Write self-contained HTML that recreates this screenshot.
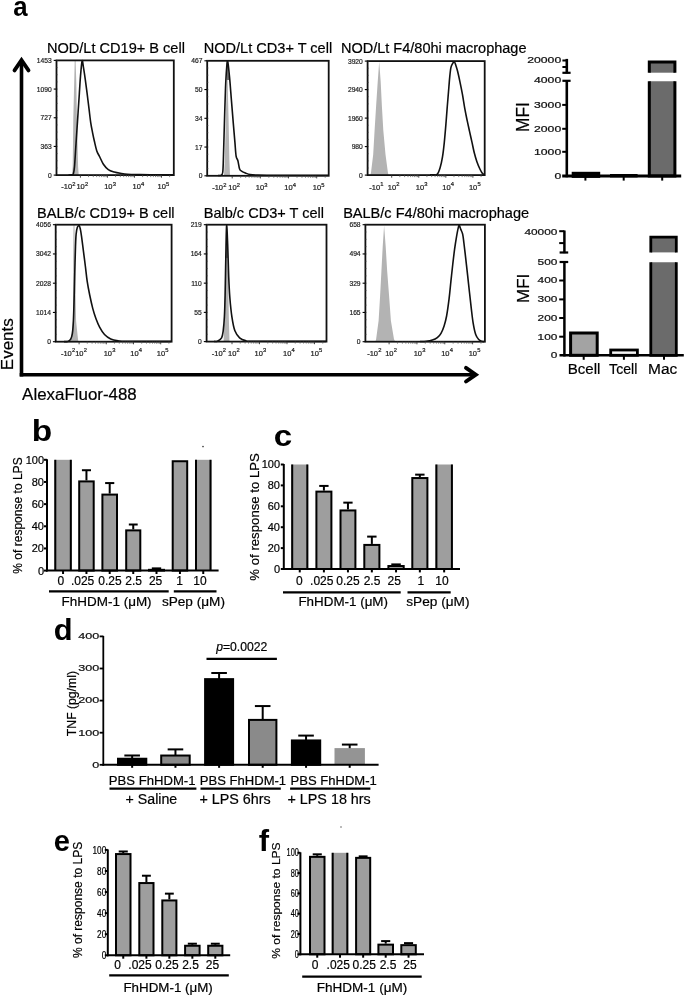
<!DOCTYPE html>
<html><head><meta charset="utf-8"><style>
html,body{margin:0;padding:0;background:#fff;}
svg{display:block;will-change:transform;}
text{font-family:"Liberation Sans", sans-serif;}
</style></head><body>
<svg width="685" height="995" viewBox="0 0 685 995" font-family='"Liberation Sans", sans-serif'>
<rect x="0" y="0" width="685" height="995" fill="#fff"/>
<text x="0" y="0" font-size="100.0" font-weight="bold" fill="#000" transform="translate(13.126 16.322) scale(0.25794 0.27818)">a</text>
<line x1="21.50" y1="61.00" x2="21.50" y2="376.40" stroke="#000" stroke-width="3.6" stroke-linecap="butt"/>
<line x1="19.70" y1="374.70" x2="476.00" y2="374.70" stroke="#000" stroke-width="3.6" stroke-linecap="butt"/>
<path d="M14.5,70.4 L21.5,60.2 L28.5,70.4" fill="none" stroke="#000" stroke-width="3.8" stroke-linecap="round" stroke-linejoin="miter" stroke-miterlimit="10"/>
<path d="M466.0,367.9 L475.8,374.7 L466.0,381.5" fill="none" stroke="#000" stroke-width="3.9" stroke-linecap="round" stroke-linejoin="miter" stroke-miterlimit="10"/>
<text x="0" y="0" font-size="100.0" fill="#000" transform="translate(13.226 370.161) rotate(-90) scale(0.17007 0.17429)" stroke="#000" stroke-width="1.162">Events</text>
<text x="0" y="0" font-size="100.0" fill="#000" transform="translate(22.115 399.738) scale(0.16912 0.16190)" stroke="#000" stroke-width="1.208">AlexaFluor-488</text>
<text x="46.93" y="52.90" font-size="14.577" fill="#000" stroke="#000" stroke-width="0.2">NOD/Lt CD19+ B cell</text>
<path d="M72.10,175.00 L72.70,166.60 L73.30,118.30 L74.20,82.10 L74.70,61.00 L75.60,61.00 L76.30,82.10 L76.90,118.30 L78.10,166.60 L78.70,175.00Z" fill="#b3b3b3"/>
<path d="M68.50,175.00 C69.00,174.97 70.70,174.98 71.50,174.80 C72.30,174.62 72.80,175.27 73.30,173.90 C73.80,172.53 74.10,170.83 74.50,166.60 C74.90,162.37 75.30,154.53 75.70,148.50 C76.10,142.47 76.50,136.43 76.90,130.40 C77.30,124.37 77.70,118.33 78.10,112.30 C78.50,106.27 78.90,100.23 79.30,94.20 C79.70,88.17 80.03,81.65 80.50,76.10 C80.97,70.55 81.60,62.30 82.10,60.90 C82.60,59.50 82.97,64.57 83.50,67.70 C84.03,70.83 84.68,75.28 85.30,79.70 C85.92,84.12 86.58,89.37 87.20,94.20 C87.82,99.03 88.40,103.87 89.00,108.70 C89.60,113.53 90.20,119.18 90.80,123.20 C91.40,127.22 92.00,129.78 92.60,132.80 C93.20,135.82 93.70,138.28 94.40,141.30 C95.10,144.32 95.90,148.28 96.80,150.90 C97.70,153.52 98.70,154.78 99.80,157.00 C100.90,159.22 101.98,162.10 103.40,164.20 C104.82,166.30 106.48,168.30 108.30,169.60 C110.12,170.90 112.30,171.38 114.30,172.00 C116.30,172.62 118.08,172.92 120.30,173.30 C122.52,173.68 124.32,174.08 127.60,174.30 C130.88,174.52 134.60,174.52 140.00,174.60 C145.40,174.68 154.50,174.75 160.00,174.80 C165.50,174.85 170.83,174.88 173.00,174.90" fill="none" stroke="#111" stroke-width="1.6" stroke-linejoin="round"/>
<rect x="56.50" y="60.40" width="117.30" height="114.70" fill="none" stroke="#111" stroke-width="1.8"/>
<line x1="53.70" y1="60.40" x2="56.50" y2="60.40" stroke="#000" stroke-width="1.1" stroke-linecap="butt"/>
<text x="51.70" y="62.90" font-size="6.7" text-anchor="end" fill="#222" stroke="#222" stroke-width="0.2">1453</text>
<line x1="53.70" y1="89.07" x2="56.50" y2="89.07" stroke="#000" stroke-width="1.1" stroke-linecap="butt"/>
<text x="51.70" y="91.57" font-size="6.7" text-anchor="end" fill="#222" stroke="#222" stroke-width="0.2">1090</text>
<line x1="53.70" y1="117.75" x2="56.50" y2="117.75" stroke="#000" stroke-width="1.1" stroke-linecap="butt"/>
<text x="51.70" y="120.25" font-size="6.7" text-anchor="end" fill="#222" stroke="#222" stroke-width="0.2">727</text>
<line x1="53.70" y1="146.42" x2="56.50" y2="146.42" stroke="#000" stroke-width="1.1" stroke-linecap="butt"/>
<text x="51.70" y="148.92" font-size="6.7" text-anchor="end" fill="#222" stroke="#222" stroke-width="0.2">363</text>
<line x1="53.70" y1="175.10" x2="56.50" y2="175.10" stroke="#000" stroke-width="1.1" stroke-linecap="butt"/>
<text x="51.70" y="177.60" font-size="6.7" text-anchor="end" fill="#222" stroke="#222" stroke-width="0.2">0</text>
<line x1="56.50" y1="60.40" x2="57.70" y2="60.40" stroke="#444" stroke-width="0.6" stroke-linecap="butt"/>
<line x1="56.50" y1="67.57" x2="57.70" y2="67.57" stroke="#444" stroke-width="0.6" stroke-linecap="butt"/>
<line x1="56.50" y1="74.74" x2="57.70" y2="74.74" stroke="#444" stroke-width="0.6" stroke-linecap="butt"/>
<line x1="56.50" y1="81.91" x2="57.70" y2="81.91" stroke="#444" stroke-width="0.6" stroke-linecap="butt"/>
<line x1="56.50" y1="89.07" x2="57.70" y2="89.07" stroke="#444" stroke-width="0.6" stroke-linecap="butt"/>
<line x1="56.50" y1="96.24" x2="57.70" y2="96.24" stroke="#444" stroke-width="0.6" stroke-linecap="butt"/>
<line x1="56.50" y1="103.41" x2="57.70" y2="103.41" stroke="#444" stroke-width="0.6" stroke-linecap="butt"/>
<line x1="56.50" y1="110.58" x2="57.70" y2="110.58" stroke="#444" stroke-width="0.6" stroke-linecap="butt"/>
<line x1="56.50" y1="117.75" x2="57.70" y2="117.75" stroke="#444" stroke-width="0.6" stroke-linecap="butt"/>
<line x1="56.50" y1="124.92" x2="57.70" y2="124.92" stroke="#444" stroke-width="0.6" stroke-linecap="butt"/>
<line x1="56.50" y1="132.09" x2="57.70" y2="132.09" stroke="#444" stroke-width="0.6" stroke-linecap="butt"/>
<line x1="56.50" y1="139.26" x2="57.70" y2="139.26" stroke="#444" stroke-width="0.6" stroke-linecap="butt"/>
<line x1="56.50" y1="146.42" x2="57.70" y2="146.42" stroke="#444" stroke-width="0.6" stroke-linecap="butt"/>
<line x1="56.50" y1="153.59" x2="57.70" y2="153.59" stroke="#444" stroke-width="0.6" stroke-linecap="butt"/>
<line x1="56.50" y1="160.76" x2="57.70" y2="160.76" stroke="#444" stroke-width="0.6" stroke-linecap="butt"/>
<line x1="56.50" y1="167.93" x2="57.70" y2="167.93" stroke="#444" stroke-width="0.6" stroke-linecap="butt"/>
<text x="61.25" y="189.40" font-size="7.5" fill="#222" stroke="#222" stroke-width="0.22">-10<tspan font-size="5.8" dx="0.15" dy="-3.9">2</tspan></text>
<text x="76.45" y="189.40" font-size="7.5" fill="#222" stroke="#222" stroke-width="0.22">10<tspan font-size="5.8" dx="0.15" dy="-3.9">2</tspan></text>
<text x="104.15" y="189.40" font-size="7.5" fill="#222" stroke="#222" stroke-width="0.22">10<tspan font-size="5.8" dx="0.15" dy="-3.9">3</tspan></text>
<text x="132.55" y="189.40" font-size="7.5" fill="#222" stroke="#222" stroke-width="0.22">10<tspan font-size="5.8" dx="0.15" dy="-3.9">4</tspan></text>
<text x="157.55" y="189.40" font-size="7.5" fill="#222" stroke="#222" stroke-width="0.22">10<tspan font-size="5.8" dx="0.15" dy="-3.9">5</tspan></text>
<line x1="88.54" y1="175.10" x2="88.54" y2="177.10" stroke="#555" stroke-width="0.7" stroke-linecap="butt"/>
<line x1="93.30" y1="175.10" x2="93.30" y2="177.10" stroke="#555" stroke-width="0.7" stroke-linecap="butt"/>
<line x1="96.68" y1="175.10" x2="96.68" y2="177.10" stroke="#555" stroke-width="0.7" stroke-linecap="butt"/>
<line x1="99.30" y1="175.10" x2="99.30" y2="177.10" stroke="#555" stroke-width="0.7" stroke-linecap="butt"/>
<line x1="101.44" y1="175.10" x2="101.44" y2="177.10" stroke="#555" stroke-width="0.7" stroke-linecap="butt"/>
<line x1="103.25" y1="175.10" x2="103.25" y2="177.10" stroke="#555" stroke-width="0.7" stroke-linecap="butt"/>
<line x1="104.81" y1="175.10" x2="104.81" y2="177.10" stroke="#555" stroke-width="0.7" stroke-linecap="butt"/>
<line x1="106.20" y1="175.10" x2="106.20" y2="177.10" stroke="#555" stroke-width="0.7" stroke-linecap="butt"/>
<line x1="80.40" y1="175.10" x2="80.40" y2="177.70" stroke="#333" stroke-width="0.9" stroke-linecap="butt"/>
<line x1="115.57" y1="175.10" x2="115.57" y2="177.10" stroke="#555" stroke-width="0.7" stroke-linecap="butt"/>
<line x1="120.33" y1="175.10" x2="120.33" y2="177.10" stroke="#555" stroke-width="0.7" stroke-linecap="butt"/>
<line x1="123.71" y1="175.10" x2="123.71" y2="177.10" stroke="#555" stroke-width="0.7" stroke-linecap="butt"/>
<line x1="126.33" y1="175.10" x2="126.33" y2="177.10" stroke="#555" stroke-width="0.7" stroke-linecap="butt"/>
<line x1="128.47" y1="175.10" x2="128.47" y2="177.10" stroke="#555" stroke-width="0.7" stroke-linecap="butt"/>
<line x1="130.28" y1="175.10" x2="130.28" y2="177.10" stroke="#555" stroke-width="0.7" stroke-linecap="butt"/>
<line x1="131.85" y1="175.10" x2="131.85" y2="177.10" stroke="#555" stroke-width="0.7" stroke-linecap="butt"/>
<line x1="133.23" y1="175.10" x2="133.23" y2="177.10" stroke="#555" stroke-width="0.7" stroke-linecap="butt"/>
<line x1="107.43" y1="175.10" x2="107.43" y2="177.70" stroke="#333" stroke-width="0.9" stroke-linecap="butt"/>
<line x1="142.60" y1="175.10" x2="142.60" y2="177.10" stroke="#555" stroke-width="0.7" stroke-linecap="butt"/>
<line x1="147.36" y1="175.10" x2="147.36" y2="177.10" stroke="#555" stroke-width="0.7" stroke-linecap="butt"/>
<line x1="150.74" y1="175.10" x2="150.74" y2="177.10" stroke="#555" stroke-width="0.7" stroke-linecap="butt"/>
<line x1="153.36" y1="175.10" x2="153.36" y2="177.10" stroke="#555" stroke-width="0.7" stroke-linecap="butt"/>
<line x1="155.50" y1="175.10" x2="155.50" y2="177.10" stroke="#555" stroke-width="0.7" stroke-linecap="butt"/>
<line x1="157.31" y1="175.10" x2="157.31" y2="177.10" stroke="#555" stroke-width="0.7" stroke-linecap="butt"/>
<line x1="158.88" y1="175.10" x2="158.88" y2="177.10" stroke="#555" stroke-width="0.7" stroke-linecap="butt"/>
<line x1="160.26" y1="175.10" x2="160.26" y2="177.10" stroke="#555" stroke-width="0.7" stroke-linecap="butt"/>
<line x1="134.47" y1="175.10" x2="134.47" y2="177.70" stroke="#333" stroke-width="0.9" stroke-linecap="butt"/>
<line x1="169.64" y1="175.10" x2="169.64" y2="177.10" stroke="#555" stroke-width="0.7" stroke-linecap="butt"/>
<line x1="161.50" y1="175.10" x2="161.50" y2="177.70" stroke="#333" stroke-width="0.9" stroke-linecap="butt"/>
<text x="203.74" y="53.00" font-size="14.551" fill="#000" stroke="#000" stroke-width="0.2">NOD/Lt CD3+ T cell</text>
<path d="M224.00,175.60 L224.80,160.00 L225.80,120.00 L226.70,80.00 L227.10,61.50 L227.60,80.00 L228.60,120.00 L229.40,160.00 L230.00,175.60Z" fill="#b3b3b3"/>
<path d="M226.70,63.00 L227.60,61.50 L229.30,80.00 L226.80,80.00Z" fill="#6a6a6a"/>
<path d="M218.00,175.50 C218.48,175.47 220.12,175.80 220.90,175.30 C221.68,174.80 222.28,175.30 222.70,172.50 C223.12,169.70 223.12,166.68 223.40,158.50 C223.68,150.32 224.05,135.08 224.40,123.40 C224.75,111.72 225.12,97.73 225.50,88.40 C225.88,79.07 226.33,71.93 226.70,67.40 C227.07,62.87 227.23,59.65 227.70,61.20 C228.17,62.75 228.88,70.23 229.50,76.70 C230.12,83.17 230.77,92.22 231.40,100.00 C232.03,107.78 232.72,116.38 233.30,123.40 C233.88,130.42 234.43,136.65 234.90,142.10 C235.37,147.55 235.60,152.98 236.10,156.10 C236.60,159.22 237.32,158.65 237.90,160.80 C238.48,162.95 238.93,167.25 239.60,169.00 C240.27,170.75 240.93,170.63 241.90,171.30 C242.87,171.97 244.03,172.45 245.40,173.00 C246.77,173.55 248.00,174.25 250.10,174.60 C252.20,174.95 253.02,174.98 258.00,175.10 C262.98,175.22 268.33,175.27 280.00,175.30 C291.67,175.33 320.00,175.30 328.00,175.30" fill="none" stroke="#111" stroke-width="1.6" stroke-linejoin="round"/>
<rect x="207.20" y="60.80" width="121.50" height="115.00" fill="none" stroke="#111" stroke-width="1.8"/>
<line x1="204.40" y1="60.80" x2="207.20" y2="60.80" stroke="#000" stroke-width="1.1" stroke-linecap="butt"/>
<text x="202.40" y="63.30" font-size="6.7" text-anchor="end" fill="#222" stroke="#222" stroke-width="0.2">467</text>
<line x1="204.40" y1="89.55" x2="207.20" y2="89.55" stroke="#000" stroke-width="1.1" stroke-linecap="butt"/>
<text x="202.40" y="92.05" font-size="6.7" text-anchor="end" fill="#222" stroke="#222" stroke-width="0.2">50</text>
<line x1="204.40" y1="118.30" x2="207.20" y2="118.30" stroke="#000" stroke-width="1.1" stroke-linecap="butt"/>
<text x="202.40" y="120.80" font-size="6.7" text-anchor="end" fill="#222" stroke="#222" stroke-width="0.2">34</text>
<line x1="204.40" y1="147.05" x2="207.20" y2="147.05" stroke="#000" stroke-width="1.1" stroke-linecap="butt"/>
<text x="202.40" y="149.55" font-size="6.7" text-anchor="end" fill="#222" stroke="#222" stroke-width="0.2">17</text>
<line x1="204.40" y1="175.80" x2="207.20" y2="175.80" stroke="#000" stroke-width="1.1" stroke-linecap="butt"/>
<text x="202.40" y="178.30" font-size="6.7" text-anchor="end" fill="#222" stroke="#222" stroke-width="0.2">0</text>
<line x1="207.20" y1="60.80" x2="208.40" y2="60.80" stroke="#444" stroke-width="0.6" stroke-linecap="butt"/>
<line x1="207.20" y1="67.99" x2="208.40" y2="67.99" stroke="#444" stroke-width="0.6" stroke-linecap="butt"/>
<line x1="207.20" y1="75.17" x2="208.40" y2="75.17" stroke="#444" stroke-width="0.6" stroke-linecap="butt"/>
<line x1="207.20" y1="82.36" x2="208.40" y2="82.36" stroke="#444" stroke-width="0.6" stroke-linecap="butt"/>
<line x1="207.20" y1="89.55" x2="208.40" y2="89.55" stroke="#444" stroke-width="0.6" stroke-linecap="butt"/>
<line x1="207.20" y1="96.74" x2="208.40" y2="96.74" stroke="#444" stroke-width="0.6" stroke-linecap="butt"/>
<line x1="207.20" y1="103.93" x2="208.40" y2="103.93" stroke="#444" stroke-width="0.6" stroke-linecap="butt"/>
<line x1="207.20" y1="111.11" x2="208.40" y2="111.11" stroke="#444" stroke-width="0.6" stroke-linecap="butt"/>
<line x1="207.20" y1="118.30" x2="208.40" y2="118.30" stroke="#444" stroke-width="0.6" stroke-linecap="butt"/>
<line x1="207.20" y1="125.49" x2="208.40" y2="125.49" stroke="#444" stroke-width="0.6" stroke-linecap="butt"/>
<line x1="207.20" y1="132.68" x2="208.40" y2="132.68" stroke="#444" stroke-width="0.6" stroke-linecap="butt"/>
<line x1="207.20" y1="139.86" x2="208.40" y2="139.86" stroke="#444" stroke-width="0.6" stroke-linecap="butt"/>
<line x1="207.20" y1="147.05" x2="208.40" y2="147.05" stroke="#444" stroke-width="0.6" stroke-linecap="butt"/>
<line x1="207.20" y1="154.24" x2="208.40" y2="154.24" stroke="#444" stroke-width="0.6" stroke-linecap="butt"/>
<line x1="207.20" y1="161.43" x2="208.40" y2="161.43" stroke="#444" stroke-width="0.6" stroke-linecap="butt"/>
<line x1="207.20" y1="168.61" x2="208.40" y2="168.61" stroke="#444" stroke-width="0.6" stroke-linecap="butt"/>
<text x="212.15" y="190.40" font-size="7.5" fill="#222" stroke="#222" stroke-width="0.22">-10<tspan font-size="5.8" dx="0.15" dy="-3.9">2</tspan></text>
<text x="228.25" y="190.40" font-size="7.5" fill="#222" stroke="#222" stroke-width="0.22">10<tspan font-size="5.8" dx="0.15" dy="-3.9">2</tspan></text>
<text x="255.75" y="190.40" font-size="7.5" fill="#222" stroke="#222" stroke-width="0.22">10<tspan font-size="5.8" dx="0.15" dy="-3.9">3</tspan></text>
<text x="284.25" y="190.40" font-size="7.5" fill="#222" stroke="#222" stroke-width="0.22">10<tspan font-size="5.8" dx="0.15" dy="-3.9">4</tspan></text>
<text x="312.75" y="190.40" font-size="7.5" fill="#222" stroke="#222" stroke-width="0.22">10<tspan font-size="5.8" dx="0.15" dy="-3.9">5</tspan></text>
<line x1="240.68" y1="175.80" x2="240.68" y2="177.80" stroke="#555" stroke-width="0.7" stroke-linecap="butt"/>
<line x1="245.64" y1="175.80" x2="245.64" y2="177.80" stroke="#555" stroke-width="0.7" stroke-linecap="butt"/>
<line x1="249.16" y1="175.80" x2="249.16" y2="177.80" stroke="#555" stroke-width="0.7" stroke-linecap="butt"/>
<line x1="251.89" y1="175.80" x2="251.89" y2="177.80" stroke="#555" stroke-width="0.7" stroke-linecap="butt"/>
<line x1="254.12" y1="175.80" x2="254.12" y2="177.80" stroke="#555" stroke-width="0.7" stroke-linecap="butt"/>
<line x1="256.00" y1="175.80" x2="256.00" y2="177.80" stroke="#555" stroke-width="0.7" stroke-linecap="butt"/>
<line x1="257.64" y1="175.80" x2="257.64" y2="177.80" stroke="#555" stroke-width="0.7" stroke-linecap="butt"/>
<line x1="259.08" y1="175.80" x2="259.08" y2="177.80" stroke="#555" stroke-width="0.7" stroke-linecap="butt"/>
<line x1="232.20" y1="175.80" x2="232.20" y2="178.40" stroke="#333" stroke-width="0.9" stroke-linecap="butt"/>
<line x1="268.85" y1="175.80" x2="268.85" y2="177.80" stroke="#555" stroke-width="0.7" stroke-linecap="butt"/>
<line x1="273.81" y1="175.80" x2="273.81" y2="177.80" stroke="#555" stroke-width="0.7" stroke-linecap="butt"/>
<line x1="277.32" y1="175.80" x2="277.32" y2="177.80" stroke="#555" stroke-width="0.7" stroke-linecap="butt"/>
<line x1="280.05" y1="175.80" x2="280.05" y2="177.80" stroke="#555" stroke-width="0.7" stroke-linecap="butt"/>
<line x1="282.28" y1="175.80" x2="282.28" y2="177.80" stroke="#555" stroke-width="0.7" stroke-linecap="butt"/>
<line x1="284.17" y1="175.80" x2="284.17" y2="177.80" stroke="#555" stroke-width="0.7" stroke-linecap="butt"/>
<line x1="285.80" y1="175.80" x2="285.80" y2="177.80" stroke="#555" stroke-width="0.7" stroke-linecap="butt"/>
<line x1="287.24" y1="175.80" x2="287.24" y2="177.80" stroke="#555" stroke-width="0.7" stroke-linecap="butt"/>
<line x1="260.37" y1="175.80" x2="260.37" y2="178.40" stroke="#333" stroke-width="0.9" stroke-linecap="butt"/>
<line x1="297.01" y1="175.80" x2="297.01" y2="177.80" stroke="#555" stroke-width="0.7" stroke-linecap="butt"/>
<line x1="301.97" y1="175.80" x2="301.97" y2="177.80" stroke="#555" stroke-width="0.7" stroke-linecap="butt"/>
<line x1="305.49" y1="175.80" x2="305.49" y2="177.80" stroke="#555" stroke-width="0.7" stroke-linecap="butt"/>
<line x1="308.22" y1="175.80" x2="308.22" y2="177.80" stroke="#555" stroke-width="0.7" stroke-linecap="butt"/>
<line x1="310.45" y1="175.80" x2="310.45" y2="177.80" stroke="#555" stroke-width="0.7" stroke-linecap="butt"/>
<line x1="312.34" y1="175.80" x2="312.34" y2="177.80" stroke="#555" stroke-width="0.7" stroke-linecap="butt"/>
<line x1="313.97" y1="175.80" x2="313.97" y2="177.80" stroke="#555" stroke-width="0.7" stroke-linecap="butt"/>
<line x1="315.41" y1="175.80" x2="315.41" y2="177.80" stroke="#555" stroke-width="0.7" stroke-linecap="butt"/>
<line x1="288.53" y1="175.80" x2="288.53" y2="178.40" stroke="#333" stroke-width="0.9" stroke-linecap="butt"/>
<line x1="325.18" y1="175.80" x2="325.18" y2="177.80" stroke="#555" stroke-width="0.7" stroke-linecap="butt"/>
<line x1="316.70" y1="175.80" x2="316.70" y2="178.40" stroke="#333" stroke-width="0.9" stroke-linecap="butt"/>
<text x="340.94" y="52.90" font-size="14.526" fill="#000" stroke="#000" stroke-width="0.2">NOD/Lt F4/80hi macrophage</text>
<path d="M370.40,175.10 L371.00,172.50 L373.20,154.40 L374.60,130.30 L376.10,106.20 L377.70,82.10 L379.20,61.50 L380.70,82.10 L381.90,106.20 L383.30,130.30 L385.50,154.40 L387.90,172.50 L388.50,175.10Z" fill="#b3b3b3"/>
<path d="M430.00,174.80 C430.57,174.78 432.22,174.77 433.40,174.70 C434.58,174.63 435.98,175.57 437.10,174.40 C438.22,173.23 439.20,170.62 440.10,167.70 C441.00,164.78 441.80,161.12 442.50,156.90 C443.20,152.68 443.70,148.23 444.30,142.40 C444.90,136.57 445.60,127.93 446.10,121.90 C446.60,115.87 446.90,111.22 447.30,106.20 C447.70,101.18 448.10,96.62 448.50,91.80 C448.90,86.98 449.30,81.33 449.70,77.30 C450.10,73.27 450.40,69.92 450.90,67.60 C451.40,65.28 452.13,64.40 452.70,63.40 C453.27,62.40 453.78,61.30 454.30,61.60 C454.82,61.90 455.25,63.58 455.80,65.20 C456.35,66.82 456.90,68.48 457.60,71.30 C458.30,74.12 459.20,78.28 460.00,82.10 C460.80,85.92 461.60,89.77 462.40,94.20 C463.20,98.63 464.00,104.28 464.80,108.70 C465.60,113.12 466.40,116.88 467.20,120.70 C468.00,124.52 468.80,127.98 469.60,131.60 C470.40,135.22 471.20,138.78 472.00,142.40 C472.80,146.02 473.58,150.08 474.40,153.30 C475.22,156.52 475.98,159.08 476.90,161.70 C477.82,164.32 479.00,167.08 479.90,169.00 C480.80,170.92 481.60,172.25 482.30,173.20 C483.00,174.15 483.80,174.45 484.10,174.70" fill="none" stroke="#111" stroke-width="1.6" stroke-linejoin="round"/>
<rect x="367.60" y="61.10" width="117.10" height="114.00" fill="none" stroke="#111" stroke-width="1.8"/>
<line x1="364.80" y1="61.10" x2="367.60" y2="61.10" stroke="#000" stroke-width="1.1" stroke-linecap="butt"/>
<text x="362.80" y="63.60" font-size="6.7" text-anchor="end" fill="#222" stroke="#222" stroke-width="0.2">3920</text>
<line x1="364.80" y1="89.60" x2="367.60" y2="89.60" stroke="#000" stroke-width="1.1" stroke-linecap="butt"/>
<text x="362.80" y="92.10" font-size="6.7" text-anchor="end" fill="#222" stroke="#222" stroke-width="0.2">2940</text>
<line x1="364.80" y1="118.10" x2="367.60" y2="118.10" stroke="#000" stroke-width="1.1" stroke-linecap="butt"/>
<text x="362.80" y="120.60" font-size="6.7" text-anchor="end" fill="#222" stroke="#222" stroke-width="0.2">1960</text>
<line x1="364.80" y1="146.60" x2="367.60" y2="146.60" stroke="#000" stroke-width="1.1" stroke-linecap="butt"/>
<text x="362.80" y="149.10" font-size="6.7" text-anchor="end" fill="#222" stroke="#222" stroke-width="0.2">980</text>
<line x1="364.80" y1="175.10" x2="367.60" y2="175.10" stroke="#000" stroke-width="1.1" stroke-linecap="butt"/>
<text x="362.80" y="177.60" font-size="6.7" text-anchor="end" fill="#222" stroke="#222" stroke-width="0.2">0</text>
<line x1="367.60" y1="61.10" x2="368.80" y2="61.10" stroke="#444" stroke-width="0.6" stroke-linecap="butt"/>
<line x1="367.60" y1="68.22" x2="368.80" y2="68.22" stroke="#444" stroke-width="0.6" stroke-linecap="butt"/>
<line x1="367.60" y1="75.35" x2="368.80" y2="75.35" stroke="#444" stroke-width="0.6" stroke-linecap="butt"/>
<line x1="367.60" y1="82.47" x2="368.80" y2="82.47" stroke="#444" stroke-width="0.6" stroke-linecap="butt"/>
<line x1="367.60" y1="89.60" x2="368.80" y2="89.60" stroke="#444" stroke-width="0.6" stroke-linecap="butt"/>
<line x1="367.60" y1="96.72" x2="368.80" y2="96.72" stroke="#444" stroke-width="0.6" stroke-linecap="butt"/>
<line x1="367.60" y1="103.85" x2="368.80" y2="103.85" stroke="#444" stroke-width="0.6" stroke-linecap="butt"/>
<line x1="367.60" y1="110.97" x2="368.80" y2="110.97" stroke="#444" stroke-width="0.6" stroke-linecap="butt"/>
<line x1="367.60" y1="118.10" x2="368.80" y2="118.10" stroke="#444" stroke-width="0.6" stroke-linecap="butt"/>
<line x1="367.60" y1="125.22" x2="368.80" y2="125.22" stroke="#444" stroke-width="0.6" stroke-linecap="butt"/>
<line x1="367.60" y1="132.35" x2="368.80" y2="132.35" stroke="#444" stroke-width="0.6" stroke-linecap="butt"/>
<line x1="367.60" y1="139.47" x2="368.80" y2="139.47" stroke="#444" stroke-width="0.6" stroke-linecap="butt"/>
<line x1="367.60" y1="146.60" x2="368.80" y2="146.60" stroke="#444" stroke-width="0.6" stroke-linecap="butt"/>
<line x1="367.60" y1="153.72" x2="368.80" y2="153.72" stroke="#444" stroke-width="0.6" stroke-linecap="butt"/>
<line x1="367.60" y1="160.85" x2="368.80" y2="160.85" stroke="#444" stroke-width="0.6" stroke-linecap="butt"/>
<line x1="367.60" y1="167.97" x2="368.80" y2="167.97" stroke="#444" stroke-width="0.6" stroke-linecap="butt"/>
<text x="369.25" y="189.80" font-size="7.5" fill="#222" stroke="#222" stroke-width="0.22">-10<tspan font-size="5.8" dx="0.15" dy="-3.9">1</tspan></text>
<text x="387.75" y="189.80" font-size="7.5" fill="#222" stroke="#222" stroke-width="0.22">10<tspan font-size="5.8" dx="0.15" dy="-3.9">2</tspan></text>
<text x="415.75" y="189.80" font-size="7.5" fill="#222" stroke="#222" stroke-width="0.22">10<tspan font-size="5.8" dx="0.15" dy="-3.9">3</tspan></text>
<text x="442.35" y="189.80" font-size="7.5" fill="#222" stroke="#222" stroke-width="0.22">10<tspan font-size="5.8" dx="0.15" dy="-3.9">4</tspan></text>
<text x="468.95" y="189.80" font-size="7.5" fill="#222" stroke="#222" stroke-width="0.22">10<tspan font-size="5.8" dx="0.15" dy="-3.9">5</tspan></text>
<line x1="399.85" y1="175.10" x2="399.85" y2="177.10" stroke="#555" stroke-width="0.7" stroke-linecap="butt"/>
<line x1="404.61" y1="175.10" x2="404.61" y2="177.10" stroke="#555" stroke-width="0.7" stroke-linecap="butt"/>
<line x1="408.00" y1="175.10" x2="408.00" y2="177.10" stroke="#555" stroke-width="0.7" stroke-linecap="butt"/>
<line x1="410.62" y1="175.10" x2="410.62" y2="177.10" stroke="#555" stroke-width="0.7" stroke-linecap="butt"/>
<line x1="412.76" y1="175.10" x2="412.76" y2="177.10" stroke="#555" stroke-width="0.7" stroke-linecap="butt"/>
<line x1="414.57" y1="175.10" x2="414.57" y2="177.10" stroke="#555" stroke-width="0.7" stroke-linecap="butt"/>
<line x1="416.14" y1="175.10" x2="416.14" y2="177.10" stroke="#555" stroke-width="0.7" stroke-linecap="butt"/>
<line x1="417.53" y1="175.10" x2="417.53" y2="177.10" stroke="#555" stroke-width="0.7" stroke-linecap="butt"/>
<line x1="391.70" y1="175.10" x2="391.70" y2="177.70" stroke="#333" stroke-width="0.9" stroke-linecap="butt"/>
<line x1="426.91" y1="175.10" x2="426.91" y2="177.10" stroke="#555" stroke-width="0.7" stroke-linecap="butt"/>
<line x1="431.68" y1="175.10" x2="431.68" y2="177.10" stroke="#555" stroke-width="0.7" stroke-linecap="butt"/>
<line x1="435.06" y1="175.10" x2="435.06" y2="177.10" stroke="#555" stroke-width="0.7" stroke-linecap="butt"/>
<line x1="437.69" y1="175.10" x2="437.69" y2="177.10" stroke="#555" stroke-width="0.7" stroke-linecap="butt"/>
<line x1="439.83" y1="175.10" x2="439.83" y2="177.10" stroke="#555" stroke-width="0.7" stroke-linecap="butt"/>
<line x1="441.64" y1="175.10" x2="441.64" y2="177.10" stroke="#555" stroke-width="0.7" stroke-linecap="butt"/>
<line x1="443.21" y1="175.10" x2="443.21" y2="177.10" stroke="#555" stroke-width="0.7" stroke-linecap="butt"/>
<line x1="444.59" y1="175.10" x2="444.59" y2="177.10" stroke="#555" stroke-width="0.7" stroke-linecap="butt"/>
<line x1="418.77" y1="175.10" x2="418.77" y2="177.70" stroke="#333" stroke-width="0.9" stroke-linecap="butt"/>
<line x1="453.98" y1="175.10" x2="453.98" y2="177.10" stroke="#555" stroke-width="0.7" stroke-linecap="butt"/>
<line x1="458.75" y1="175.10" x2="458.75" y2="177.10" stroke="#555" stroke-width="0.7" stroke-linecap="butt"/>
<line x1="462.13" y1="175.10" x2="462.13" y2="177.10" stroke="#555" stroke-width="0.7" stroke-linecap="butt"/>
<line x1="464.75" y1="175.10" x2="464.75" y2="177.10" stroke="#555" stroke-width="0.7" stroke-linecap="butt"/>
<line x1="466.90" y1="175.10" x2="466.90" y2="177.10" stroke="#555" stroke-width="0.7" stroke-linecap="butt"/>
<line x1="468.71" y1="175.10" x2="468.71" y2="177.10" stroke="#555" stroke-width="0.7" stroke-linecap="butt"/>
<line x1="470.28" y1="175.10" x2="470.28" y2="177.10" stroke="#555" stroke-width="0.7" stroke-linecap="butt"/>
<line x1="471.66" y1="175.10" x2="471.66" y2="177.10" stroke="#555" stroke-width="0.7" stroke-linecap="butt"/>
<line x1="445.83" y1="175.10" x2="445.83" y2="177.70" stroke="#333" stroke-width="0.9" stroke-linecap="butt"/>
<line x1="481.05" y1="175.10" x2="481.05" y2="177.10" stroke="#555" stroke-width="0.7" stroke-linecap="butt"/>
<line x1="472.90" y1="175.10" x2="472.90" y2="177.70" stroke="#333" stroke-width="0.9" stroke-linecap="butt"/>
<text x="37.04" y="218.40" font-size="14.523" fill="#000" stroke="#000" stroke-width="0.2">BALB/c CD19+ B cell</text>
<path d="M70.90,341.60 L71.10,338.30 L73.00,320.90 L73.20,260.00 L73.50,225.30 L74.50,225.30 L74.90,260.00 L76.10,320.90 L77.90,338.30 L78.30,341.60Z" fill="#b3b3b3"/>
<path d="M64.00,341.60 C64.57,341.58 66.32,341.85 67.40,341.50 C68.48,341.15 69.67,340.87 70.50,339.50 C71.33,338.13 71.92,336.40 72.40,333.30 C72.88,330.20 73.10,327.08 73.40,320.90 C73.70,314.72 73.97,304.43 74.20,296.20 C74.43,287.97 74.58,279.75 74.80,271.50 C75.02,263.25 75.28,252.88 75.50,246.70 C75.72,240.52 75.80,237.58 76.10,234.40 C76.40,231.22 76.78,229.07 77.30,227.60 C77.82,226.13 78.68,225.30 79.20,225.60 C79.72,225.90 80.00,227.53 80.40,229.40 C80.80,231.27 81.08,233.08 81.60,236.80 C82.12,240.52 82.87,246.75 83.50,251.70 C84.13,256.65 84.78,261.55 85.40,266.50 C86.02,271.45 86.48,276.65 87.20,281.40 C87.92,286.15 88.77,290.47 89.70,295.00 C90.63,299.53 91.77,304.68 92.80,308.60 C93.83,312.52 94.77,315.42 95.90,318.50 C97.03,321.58 98.17,324.43 99.60,327.10 C101.03,329.77 102.65,332.53 104.50,334.50 C106.35,336.47 108.43,337.87 110.70,338.90 C112.97,339.93 115.42,340.30 118.10,340.70 C120.78,341.10 117.98,341.18 126.80,341.30 C135.62,341.42 163.63,341.38 171.00,341.40" fill="none" stroke="#111" stroke-width="1.6" stroke-linejoin="round"/>
<rect x="55.70" y="224.70" width="115.90" height="117.00" fill="none" stroke="#111" stroke-width="1.8"/>
<line x1="52.90" y1="224.70" x2="55.70" y2="224.70" stroke="#000" stroke-width="1.1" stroke-linecap="butt"/>
<text x="50.90" y="227.20" font-size="6.7" text-anchor="end" fill="#222" stroke="#222" stroke-width="0.2">4056</text>
<line x1="52.90" y1="253.95" x2="55.70" y2="253.95" stroke="#000" stroke-width="1.1" stroke-linecap="butt"/>
<text x="50.90" y="256.45" font-size="6.7" text-anchor="end" fill="#222" stroke="#222" stroke-width="0.2">3042</text>
<line x1="52.90" y1="283.20" x2="55.70" y2="283.20" stroke="#000" stroke-width="1.1" stroke-linecap="butt"/>
<text x="50.90" y="285.70" font-size="6.7" text-anchor="end" fill="#222" stroke="#222" stroke-width="0.2">2028</text>
<line x1="52.90" y1="312.45" x2="55.70" y2="312.45" stroke="#000" stroke-width="1.1" stroke-linecap="butt"/>
<text x="50.90" y="314.95" font-size="6.7" text-anchor="end" fill="#222" stroke="#222" stroke-width="0.2">1014</text>
<line x1="52.90" y1="341.70" x2="55.70" y2="341.70" stroke="#000" stroke-width="1.1" stroke-linecap="butt"/>
<text x="50.90" y="344.20" font-size="6.7" text-anchor="end" fill="#222" stroke="#222" stroke-width="0.2">0</text>
<line x1="55.70" y1="224.70" x2="56.90" y2="224.70" stroke="#444" stroke-width="0.6" stroke-linecap="butt"/>
<line x1="55.70" y1="232.01" x2="56.90" y2="232.01" stroke="#444" stroke-width="0.6" stroke-linecap="butt"/>
<line x1="55.70" y1="239.32" x2="56.90" y2="239.32" stroke="#444" stroke-width="0.6" stroke-linecap="butt"/>
<line x1="55.70" y1="246.64" x2="56.90" y2="246.64" stroke="#444" stroke-width="0.6" stroke-linecap="butt"/>
<line x1="55.70" y1="253.95" x2="56.90" y2="253.95" stroke="#444" stroke-width="0.6" stroke-linecap="butt"/>
<line x1="55.70" y1="261.26" x2="56.90" y2="261.26" stroke="#444" stroke-width="0.6" stroke-linecap="butt"/>
<line x1="55.70" y1="268.57" x2="56.90" y2="268.57" stroke="#444" stroke-width="0.6" stroke-linecap="butt"/>
<line x1="55.70" y1="275.89" x2="56.90" y2="275.89" stroke="#444" stroke-width="0.6" stroke-linecap="butt"/>
<line x1="55.70" y1="283.20" x2="56.90" y2="283.20" stroke="#444" stroke-width="0.6" stroke-linecap="butt"/>
<line x1="55.70" y1="290.51" x2="56.90" y2="290.51" stroke="#444" stroke-width="0.6" stroke-linecap="butt"/>
<line x1="55.70" y1="297.82" x2="56.90" y2="297.82" stroke="#444" stroke-width="0.6" stroke-linecap="butt"/>
<line x1="55.70" y1="305.14" x2="56.90" y2="305.14" stroke="#444" stroke-width="0.6" stroke-linecap="butt"/>
<line x1="55.70" y1="312.45" x2="56.90" y2="312.45" stroke="#444" stroke-width="0.6" stroke-linecap="butt"/>
<line x1="55.70" y1="319.76" x2="56.90" y2="319.76" stroke="#444" stroke-width="0.6" stroke-linecap="butt"/>
<line x1="55.70" y1="327.07" x2="56.90" y2="327.07" stroke="#444" stroke-width="0.6" stroke-linecap="butt"/>
<line x1="55.70" y1="334.39" x2="56.90" y2="334.39" stroke="#444" stroke-width="0.6" stroke-linecap="butt"/>
<text x="60.95" y="355.70" font-size="7.5" fill="#222" stroke="#222" stroke-width="0.22">-10<tspan font-size="5.8" dx="0.15" dy="-3.9">2</tspan></text>
<text x="75.15" y="355.70" font-size="7.5" fill="#222" stroke="#222" stroke-width="0.22">10<tspan font-size="5.8" dx="0.15" dy="-3.9">2</tspan></text>
<text x="103.65" y="355.70" font-size="7.5" fill="#222" stroke="#222" stroke-width="0.22">10<tspan font-size="5.8" dx="0.15" dy="-3.9">3</tspan></text>
<text x="130.25" y="355.70" font-size="7.5" fill="#222" stroke="#222" stroke-width="0.22">10<tspan font-size="5.8" dx="0.15" dy="-3.9">4</tspan></text>
<text x="156.75" y="355.70" font-size="7.5" fill="#222" stroke="#222" stroke-width="0.22">10<tspan font-size="5.8" dx="0.15" dy="-3.9">5</tspan></text>
<line x1="87.29" y1="341.70" x2="87.29" y2="343.70" stroke="#555" stroke-width="0.7" stroke-linecap="butt"/>
<line x1="92.08" y1="341.70" x2="92.08" y2="343.70" stroke="#555" stroke-width="0.7" stroke-linecap="butt"/>
<line x1="95.48" y1="341.70" x2="95.48" y2="343.70" stroke="#555" stroke-width="0.7" stroke-linecap="butt"/>
<line x1="98.11" y1="341.70" x2="98.11" y2="343.70" stroke="#555" stroke-width="0.7" stroke-linecap="butt"/>
<line x1="100.27" y1="341.70" x2="100.27" y2="343.70" stroke="#555" stroke-width="0.7" stroke-linecap="butt"/>
<line x1="102.09" y1="341.70" x2="102.09" y2="343.70" stroke="#555" stroke-width="0.7" stroke-linecap="butt"/>
<line x1="103.66" y1="341.70" x2="103.66" y2="343.70" stroke="#555" stroke-width="0.7" stroke-linecap="butt"/>
<line x1="105.06" y1="341.70" x2="105.06" y2="343.70" stroke="#555" stroke-width="0.7" stroke-linecap="butt"/>
<line x1="79.10" y1="341.70" x2="79.10" y2="344.30" stroke="#333" stroke-width="0.9" stroke-linecap="butt"/>
<line x1="114.49" y1="341.70" x2="114.49" y2="343.70" stroke="#555" stroke-width="0.7" stroke-linecap="butt"/>
<line x1="119.28" y1="341.70" x2="119.28" y2="343.70" stroke="#555" stroke-width="0.7" stroke-linecap="butt"/>
<line x1="122.68" y1="341.70" x2="122.68" y2="343.70" stroke="#555" stroke-width="0.7" stroke-linecap="butt"/>
<line x1="125.31" y1="341.70" x2="125.31" y2="343.70" stroke="#555" stroke-width="0.7" stroke-linecap="butt"/>
<line x1="127.47" y1="341.70" x2="127.47" y2="343.70" stroke="#555" stroke-width="0.7" stroke-linecap="butt"/>
<line x1="129.29" y1="341.70" x2="129.29" y2="343.70" stroke="#555" stroke-width="0.7" stroke-linecap="butt"/>
<line x1="130.86" y1="341.70" x2="130.86" y2="343.70" stroke="#555" stroke-width="0.7" stroke-linecap="butt"/>
<line x1="132.26" y1="341.70" x2="132.26" y2="343.70" stroke="#555" stroke-width="0.7" stroke-linecap="butt"/>
<line x1="106.30" y1="341.70" x2="106.30" y2="344.30" stroke="#333" stroke-width="0.9" stroke-linecap="butt"/>
<line x1="141.69" y1="341.70" x2="141.69" y2="343.70" stroke="#555" stroke-width="0.7" stroke-linecap="butt"/>
<line x1="146.48" y1="341.70" x2="146.48" y2="343.70" stroke="#555" stroke-width="0.7" stroke-linecap="butt"/>
<line x1="149.88" y1="341.70" x2="149.88" y2="343.70" stroke="#555" stroke-width="0.7" stroke-linecap="butt"/>
<line x1="152.51" y1="341.70" x2="152.51" y2="343.70" stroke="#555" stroke-width="0.7" stroke-linecap="butt"/>
<line x1="154.67" y1="341.70" x2="154.67" y2="343.70" stroke="#555" stroke-width="0.7" stroke-linecap="butt"/>
<line x1="156.49" y1="341.70" x2="156.49" y2="343.70" stroke="#555" stroke-width="0.7" stroke-linecap="butt"/>
<line x1="158.06" y1="341.70" x2="158.06" y2="343.70" stroke="#555" stroke-width="0.7" stroke-linecap="butt"/>
<line x1="159.46" y1="341.70" x2="159.46" y2="343.70" stroke="#555" stroke-width="0.7" stroke-linecap="butt"/>
<line x1="133.50" y1="341.70" x2="133.50" y2="344.30" stroke="#333" stroke-width="0.9" stroke-linecap="butt"/>
<line x1="168.89" y1="341.70" x2="168.89" y2="343.70" stroke="#555" stroke-width="0.7" stroke-linecap="butt"/>
<line x1="160.70" y1="341.70" x2="160.70" y2="344.30" stroke="#333" stroke-width="0.9" stroke-linecap="butt"/>
<text x="203.74" y="218.40" font-size="14.548" fill="#000" stroke="#000" stroke-width="0.2">Balb/c CD3+ T cell</text>
<path d="M223.60,341.40 L224.30,320.00 L225.20,280.00 L226.00,245.00 L226.60,230.00 L227.30,245.00 L228.20,280.00 L228.90,320.00 L229.50,341.40Z" fill="#b3b3b3"/>
<path d="M226.00,250.00 L226.60,228.00 L227.50,246.00 L227.90,258.00 L225.70,258.00Z" fill="#6a6a6a"/>
<path d="M214.00,341.40 C214.57,341.37 216.13,341.80 217.40,341.20 C218.67,340.60 220.63,339.53 221.60,337.80 C222.57,336.07 222.73,334.30 223.20,330.80 C223.67,327.30 224.08,322.68 224.40,316.80 C224.72,310.92 224.87,305.35 225.10,295.50 C225.33,285.65 225.55,269.32 225.80,257.70 C226.05,246.08 226.28,227.88 226.60,225.80 C226.92,223.72 227.35,236.73 227.70,245.20 C228.05,253.67 228.35,267.97 228.70,276.60 C229.05,285.23 229.27,290.30 229.80,297.00 C230.33,303.70 231.05,311.17 231.90,316.80 C232.75,322.43 233.62,327.30 234.90,330.80 C236.18,334.30 237.85,336.17 239.60,337.80 C241.35,339.43 242.83,340.02 245.40,340.60 C247.97,341.18 241.57,341.17 255.00,341.30 C268.43,341.43 314.17,341.38 326.00,341.40" fill="none" stroke="#111" stroke-width="1.6" stroke-linejoin="round"/>
<rect x="206.60" y="224.70" width="119.90" height="116.90" fill="none" stroke="#111" stroke-width="1.8"/>
<line x1="203.80" y1="224.70" x2="206.60" y2="224.70" stroke="#000" stroke-width="1.1" stroke-linecap="butt"/>
<text x="201.80" y="227.20" font-size="6.7" text-anchor="end" fill="#222" stroke="#222" stroke-width="0.2">219</text>
<line x1="203.80" y1="253.93" x2="206.60" y2="253.93" stroke="#000" stroke-width="1.1" stroke-linecap="butt"/>
<text x="201.80" y="256.43" font-size="6.7" text-anchor="end" fill="#222" stroke="#222" stroke-width="0.2">164</text>
<line x1="203.80" y1="283.15" x2="206.60" y2="283.15" stroke="#000" stroke-width="1.1" stroke-linecap="butt"/>
<text x="201.80" y="285.65" font-size="6.7" text-anchor="end" fill="#222" stroke="#222" stroke-width="0.2">110</text>
<line x1="203.80" y1="312.38" x2="206.60" y2="312.38" stroke="#000" stroke-width="1.1" stroke-linecap="butt"/>
<text x="201.80" y="314.88" font-size="6.7" text-anchor="end" fill="#222" stroke="#222" stroke-width="0.2">55</text>
<line x1="203.80" y1="341.60" x2="206.60" y2="341.60" stroke="#000" stroke-width="1.1" stroke-linecap="butt"/>
<text x="201.80" y="344.10" font-size="6.7" text-anchor="end" fill="#222" stroke="#222" stroke-width="0.2">0</text>
<line x1="206.60" y1="224.70" x2="207.80" y2="224.70" stroke="#444" stroke-width="0.6" stroke-linecap="butt"/>
<line x1="206.60" y1="232.01" x2="207.80" y2="232.01" stroke="#444" stroke-width="0.6" stroke-linecap="butt"/>
<line x1="206.60" y1="239.31" x2="207.80" y2="239.31" stroke="#444" stroke-width="0.6" stroke-linecap="butt"/>
<line x1="206.60" y1="246.62" x2="207.80" y2="246.62" stroke="#444" stroke-width="0.6" stroke-linecap="butt"/>
<line x1="206.60" y1="253.93" x2="207.80" y2="253.93" stroke="#444" stroke-width="0.6" stroke-linecap="butt"/>
<line x1="206.60" y1="261.23" x2="207.80" y2="261.23" stroke="#444" stroke-width="0.6" stroke-linecap="butt"/>
<line x1="206.60" y1="268.54" x2="207.80" y2="268.54" stroke="#444" stroke-width="0.6" stroke-linecap="butt"/>
<line x1="206.60" y1="275.84" x2="207.80" y2="275.84" stroke="#444" stroke-width="0.6" stroke-linecap="butt"/>
<line x1="206.60" y1="283.15" x2="207.80" y2="283.15" stroke="#444" stroke-width="0.6" stroke-linecap="butt"/>
<line x1="206.60" y1="290.46" x2="207.80" y2="290.46" stroke="#444" stroke-width="0.6" stroke-linecap="butt"/>
<line x1="206.60" y1="297.76" x2="207.80" y2="297.76" stroke="#444" stroke-width="0.6" stroke-linecap="butt"/>
<line x1="206.60" y1="305.07" x2="207.80" y2="305.07" stroke="#444" stroke-width="0.6" stroke-linecap="butt"/>
<line x1="206.60" y1="312.38" x2="207.80" y2="312.38" stroke="#444" stroke-width="0.6" stroke-linecap="butt"/>
<line x1="206.60" y1="319.68" x2="207.80" y2="319.68" stroke="#444" stroke-width="0.6" stroke-linecap="butt"/>
<line x1="206.60" y1="326.99" x2="207.80" y2="326.99" stroke="#444" stroke-width="0.6" stroke-linecap="butt"/>
<line x1="206.60" y1="334.29" x2="207.80" y2="334.29" stroke="#444" stroke-width="0.6" stroke-linecap="butt"/>
<text x="211.85" y="355.70" font-size="7.5" fill="#222" stroke="#222" stroke-width="0.22">-10<tspan font-size="5.8" dx="0.15" dy="-3.9">2</tspan></text>
<text x="228.05" y="355.70" font-size="7.5" fill="#222" stroke="#222" stroke-width="0.22">10<tspan font-size="5.8" dx="0.15" dy="-3.9">2</tspan></text>
<text x="254.55" y="355.70" font-size="7.5" fill="#222" stroke="#222" stroke-width="0.22">10<tspan font-size="5.8" dx="0.15" dy="-3.9">3</tspan></text>
<text x="283.05" y="355.70" font-size="7.5" fill="#222" stroke="#222" stroke-width="0.22">10<tspan font-size="5.8" dx="0.15" dy="-3.9">4</tspan></text>
<text x="310.55" y="355.70" font-size="7.5" fill="#222" stroke="#222" stroke-width="0.22">10<tspan font-size="5.8" dx="0.15" dy="-3.9">5</tspan></text>
<line x1="240.28" y1="341.60" x2="240.28" y2="343.60" stroke="#555" stroke-width="0.7" stroke-linecap="butt"/>
<line x1="245.12" y1="341.60" x2="245.12" y2="343.60" stroke="#555" stroke-width="0.7" stroke-linecap="butt"/>
<line x1="248.56" y1="341.60" x2="248.56" y2="343.60" stroke="#555" stroke-width="0.7" stroke-linecap="butt"/>
<line x1="251.22" y1="341.60" x2="251.22" y2="343.60" stroke="#555" stroke-width="0.7" stroke-linecap="butt"/>
<line x1="253.40" y1="341.60" x2="253.40" y2="343.60" stroke="#555" stroke-width="0.7" stroke-linecap="butt"/>
<line x1="255.24" y1="341.60" x2="255.24" y2="343.60" stroke="#555" stroke-width="0.7" stroke-linecap="butt"/>
<line x1="256.83" y1="341.60" x2="256.83" y2="343.60" stroke="#555" stroke-width="0.7" stroke-linecap="butt"/>
<line x1="258.24" y1="341.60" x2="258.24" y2="343.60" stroke="#555" stroke-width="0.7" stroke-linecap="butt"/>
<line x1="232.00" y1="341.60" x2="232.00" y2="344.20" stroke="#333" stroke-width="0.9" stroke-linecap="butt"/>
<line x1="267.78" y1="341.60" x2="267.78" y2="343.60" stroke="#555" stroke-width="0.7" stroke-linecap="butt"/>
<line x1="272.62" y1="341.60" x2="272.62" y2="343.60" stroke="#555" stroke-width="0.7" stroke-linecap="butt"/>
<line x1="276.06" y1="341.60" x2="276.06" y2="343.60" stroke="#555" stroke-width="0.7" stroke-linecap="butt"/>
<line x1="278.72" y1="341.60" x2="278.72" y2="343.60" stroke="#555" stroke-width="0.7" stroke-linecap="butt"/>
<line x1="280.90" y1="341.60" x2="280.90" y2="343.60" stroke="#555" stroke-width="0.7" stroke-linecap="butt"/>
<line x1="282.74" y1="341.60" x2="282.74" y2="343.60" stroke="#555" stroke-width="0.7" stroke-linecap="butt"/>
<line x1="284.33" y1="341.60" x2="284.33" y2="343.60" stroke="#555" stroke-width="0.7" stroke-linecap="butt"/>
<line x1="285.74" y1="341.60" x2="285.74" y2="343.60" stroke="#555" stroke-width="0.7" stroke-linecap="butt"/>
<line x1="259.50" y1="341.60" x2="259.50" y2="344.20" stroke="#333" stroke-width="0.9" stroke-linecap="butt"/>
<line x1="295.28" y1="341.60" x2="295.28" y2="343.60" stroke="#555" stroke-width="0.7" stroke-linecap="butt"/>
<line x1="300.12" y1="341.60" x2="300.12" y2="343.60" stroke="#555" stroke-width="0.7" stroke-linecap="butt"/>
<line x1="303.56" y1="341.60" x2="303.56" y2="343.60" stroke="#555" stroke-width="0.7" stroke-linecap="butt"/>
<line x1="306.22" y1="341.60" x2="306.22" y2="343.60" stroke="#555" stroke-width="0.7" stroke-linecap="butt"/>
<line x1="308.40" y1="341.60" x2="308.40" y2="343.60" stroke="#555" stroke-width="0.7" stroke-linecap="butt"/>
<line x1="310.24" y1="341.60" x2="310.24" y2="343.60" stroke="#555" stroke-width="0.7" stroke-linecap="butt"/>
<line x1="311.83" y1="341.60" x2="311.83" y2="343.60" stroke="#555" stroke-width="0.7" stroke-linecap="butt"/>
<line x1="313.24" y1="341.60" x2="313.24" y2="343.60" stroke="#555" stroke-width="0.7" stroke-linecap="butt"/>
<line x1="287.00" y1="341.60" x2="287.00" y2="344.20" stroke="#333" stroke-width="0.9" stroke-linecap="butt"/>
<line x1="322.78" y1="341.60" x2="322.78" y2="343.60" stroke="#555" stroke-width="0.7" stroke-linecap="butt"/>
<line x1="314.50" y1="341.60" x2="314.50" y2="344.20" stroke="#333" stroke-width="0.9" stroke-linecap="butt"/>
<text x="343.14" y="218.40" font-size="14.550" fill="#000" stroke="#000" stroke-width="0.2">BALB/c F4/80hi macrophage</text>
<path d="M375.50,341.60 L376.10,339.30 L378.60,320.80 L380.10,296.10 L381.40,271.40 L382.70,246.70 L384.10,225.50 L385.70,246.70 L387.20,271.40 L389.10,296.10 L390.90,320.80 L394.00,339.30 L395.20,341.60Z" fill="#b3b3b3"/>
<path d="M420.00,341.50 C421.03,341.47 424.13,341.53 426.20,341.30 C428.27,341.07 430.55,340.72 432.40,340.10 C434.25,339.48 435.87,338.73 437.30,337.60 C438.73,336.47 439.87,335.25 441.00,333.30 C442.13,331.35 443.17,328.78 444.10,325.90 C445.03,323.02 445.77,320.53 446.60,316.00 C447.43,311.47 448.38,304.47 449.10,298.70 C449.82,292.93 450.28,287.18 450.90,281.40 C451.52,275.62 452.18,269.37 452.80,264.00 C453.42,258.63 453.98,253.73 454.60,249.20 C455.22,244.67 455.88,240.40 456.50,236.80 C457.12,233.20 457.83,229.48 458.30,227.60 C458.77,225.72 458.88,225.20 459.30,225.50 C459.72,225.80 460.23,227.92 460.80,229.40 C461.37,230.88 462.18,232.13 462.70,234.40 C463.22,236.67 463.38,238.88 463.90,243.00 C464.42,247.12 465.18,253.73 465.80,259.10 C466.42,264.47 466.98,269.63 467.60,275.20 C468.22,280.77 468.88,286.93 469.50,292.50 C470.12,298.07 470.68,303.45 471.30,308.60 C471.92,313.75 472.47,319.08 473.20,323.40 C473.93,327.72 474.78,331.82 475.70,334.50 C476.62,337.18 477.68,338.37 478.70,339.50 C479.72,340.63 480.87,340.95 481.80,341.30 C482.73,341.65 483.88,341.55 484.30,341.60" fill="none" stroke="#111" stroke-width="1.6" stroke-linejoin="round"/>
<rect x="365.40" y="224.70" width="119.50" height="117.00" fill="none" stroke="#111" stroke-width="1.8"/>
<line x1="362.60" y1="224.70" x2="365.40" y2="224.70" stroke="#000" stroke-width="1.1" stroke-linecap="butt"/>
<text x="360.60" y="227.20" font-size="6.7" text-anchor="end" fill="#222" stroke="#222" stroke-width="0.2">658</text>
<line x1="362.60" y1="253.95" x2="365.40" y2="253.95" stroke="#000" stroke-width="1.1" stroke-linecap="butt"/>
<text x="360.60" y="256.45" font-size="6.7" text-anchor="end" fill="#222" stroke="#222" stroke-width="0.2">494</text>
<line x1="362.60" y1="283.20" x2="365.40" y2="283.20" stroke="#000" stroke-width="1.1" stroke-linecap="butt"/>
<text x="360.60" y="285.70" font-size="6.7" text-anchor="end" fill="#222" stroke="#222" stroke-width="0.2">329</text>
<line x1="362.60" y1="312.45" x2="365.40" y2="312.45" stroke="#000" stroke-width="1.1" stroke-linecap="butt"/>
<text x="360.60" y="314.95" font-size="6.7" text-anchor="end" fill="#222" stroke="#222" stroke-width="0.2">165</text>
<line x1="362.60" y1="341.70" x2="365.40" y2="341.70" stroke="#000" stroke-width="1.1" stroke-linecap="butt"/>
<text x="360.60" y="344.20" font-size="6.7" text-anchor="end" fill="#222" stroke="#222" stroke-width="0.2">0</text>
<line x1="365.40" y1="224.70" x2="366.60" y2="224.70" stroke="#444" stroke-width="0.6" stroke-linecap="butt"/>
<line x1="365.40" y1="232.01" x2="366.60" y2="232.01" stroke="#444" stroke-width="0.6" stroke-linecap="butt"/>
<line x1="365.40" y1="239.32" x2="366.60" y2="239.32" stroke="#444" stroke-width="0.6" stroke-linecap="butt"/>
<line x1="365.40" y1="246.64" x2="366.60" y2="246.64" stroke="#444" stroke-width="0.6" stroke-linecap="butt"/>
<line x1="365.40" y1="253.95" x2="366.60" y2="253.95" stroke="#444" stroke-width="0.6" stroke-linecap="butt"/>
<line x1="365.40" y1="261.26" x2="366.60" y2="261.26" stroke="#444" stroke-width="0.6" stroke-linecap="butt"/>
<line x1="365.40" y1="268.57" x2="366.60" y2="268.57" stroke="#444" stroke-width="0.6" stroke-linecap="butt"/>
<line x1="365.40" y1="275.89" x2="366.60" y2="275.89" stroke="#444" stroke-width="0.6" stroke-linecap="butt"/>
<line x1="365.40" y1="283.20" x2="366.60" y2="283.20" stroke="#444" stroke-width="0.6" stroke-linecap="butt"/>
<line x1="365.40" y1="290.51" x2="366.60" y2="290.51" stroke="#444" stroke-width="0.6" stroke-linecap="butt"/>
<line x1="365.40" y1="297.82" x2="366.60" y2="297.82" stroke="#444" stroke-width="0.6" stroke-linecap="butt"/>
<line x1="365.40" y1="305.14" x2="366.60" y2="305.14" stroke="#444" stroke-width="0.6" stroke-linecap="butt"/>
<line x1="365.40" y1="312.45" x2="366.60" y2="312.45" stroke="#444" stroke-width="0.6" stroke-linecap="butt"/>
<line x1="365.40" y1="319.76" x2="366.60" y2="319.76" stroke="#444" stroke-width="0.6" stroke-linecap="butt"/>
<line x1="365.40" y1="327.07" x2="366.60" y2="327.07" stroke="#444" stroke-width="0.6" stroke-linecap="butt"/>
<line x1="365.40" y1="334.39" x2="366.60" y2="334.39" stroke="#444" stroke-width="0.6" stroke-linecap="butt"/>
<text x="367.15" y="355.70" font-size="7.5" fill="#222" stroke="#222" stroke-width="0.22">-10<tspan font-size="5.8" dx="0.15" dy="-3.9">2</tspan></text>
<text x="385.15" y="355.70" font-size="7.5" fill="#222" stroke="#222" stroke-width="0.22">10<tspan font-size="5.8" dx="0.15" dy="-3.9">2</tspan></text>
<text x="413.65" y="355.70" font-size="7.5" fill="#222" stroke="#222" stroke-width="0.22">10<tspan font-size="5.8" dx="0.15" dy="-3.9">3</tspan></text>
<text x="441.15" y="355.70" font-size="7.5" fill="#222" stroke="#222" stroke-width="0.22">10<tspan font-size="5.8" dx="0.15" dy="-3.9">4</tspan></text>
<text x="468.65" y="355.70" font-size="7.5" fill="#222" stroke="#222" stroke-width="0.22">10<tspan font-size="5.8" dx="0.15" dy="-3.9">5</tspan></text>
<line x1="397.48" y1="341.70" x2="397.48" y2="343.70" stroke="#555" stroke-width="0.7" stroke-linecap="butt"/>
<line x1="402.38" y1="341.70" x2="402.38" y2="343.70" stroke="#555" stroke-width="0.7" stroke-linecap="butt"/>
<line x1="405.86" y1="341.70" x2="405.86" y2="343.70" stroke="#555" stroke-width="0.7" stroke-linecap="butt"/>
<line x1="408.55" y1="341.70" x2="408.55" y2="343.70" stroke="#555" stroke-width="0.7" stroke-linecap="butt"/>
<line x1="410.76" y1="341.70" x2="410.76" y2="343.70" stroke="#555" stroke-width="0.7" stroke-linecap="butt"/>
<line x1="412.62" y1="341.70" x2="412.62" y2="343.70" stroke="#555" stroke-width="0.7" stroke-linecap="butt"/>
<line x1="414.24" y1="341.70" x2="414.24" y2="343.70" stroke="#555" stroke-width="0.7" stroke-linecap="butt"/>
<line x1="415.66" y1="341.70" x2="415.66" y2="343.70" stroke="#555" stroke-width="0.7" stroke-linecap="butt"/>
<line x1="389.10" y1="341.70" x2="389.10" y2="344.30" stroke="#333" stroke-width="0.9" stroke-linecap="butt"/>
<line x1="425.31" y1="341.70" x2="425.31" y2="343.70" stroke="#555" stroke-width="0.7" stroke-linecap="butt"/>
<line x1="430.21" y1="341.70" x2="430.21" y2="343.70" stroke="#555" stroke-width="0.7" stroke-linecap="butt"/>
<line x1="433.69" y1="341.70" x2="433.69" y2="343.70" stroke="#555" stroke-width="0.7" stroke-linecap="butt"/>
<line x1="436.39" y1="341.70" x2="436.39" y2="343.70" stroke="#555" stroke-width="0.7" stroke-linecap="butt"/>
<line x1="438.59" y1="341.70" x2="438.59" y2="343.70" stroke="#555" stroke-width="0.7" stroke-linecap="butt"/>
<line x1="440.46" y1="341.70" x2="440.46" y2="343.70" stroke="#555" stroke-width="0.7" stroke-linecap="butt"/>
<line x1="442.07" y1="341.70" x2="442.07" y2="343.70" stroke="#555" stroke-width="0.7" stroke-linecap="butt"/>
<line x1="443.49" y1="341.70" x2="443.49" y2="343.70" stroke="#555" stroke-width="0.7" stroke-linecap="butt"/>
<line x1="416.93" y1="341.70" x2="416.93" y2="344.30" stroke="#333" stroke-width="0.9" stroke-linecap="butt"/>
<line x1="453.15" y1="341.70" x2="453.15" y2="343.70" stroke="#555" stroke-width="0.7" stroke-linecap="butt"/>
<line x1="458.05" y1="341.70" x2="458.05" y2="343.70" stroke="#555" stroke-width="0.7" stroke-linecap="butt"/>
<line x1="461.52" y1="341.70" x2="461.52" y2="343.70" stroke="#555" stroke-width="0.7" stroke-linecap="butt"/>
<line x1="464.22" y1="341.70" x2="464.22" y2="343.70" stroke="#555" stroke-width="0.7" stroke-linecap="butt"/>
<line x1="466.43" y1="341.70" x2="466.43" y2="343.70" stroke="#555" stroke-width="0.7" stroke-linecap="butt"/>
<line x1="468.29" y1="341.70" x2="468.29" y2="343.70" stroke="#555" stroke-width="0.7" stroke-linecap="butt"/>
<line x1="469.90" y1="341.70" x2="469.90" y2="343.70" stroke="#555" stroke-width="0.7" stroke-linecap="butt"/>
<line x1="471.33" y1="341.70" x2="471.33" y2="343.70" stroke="#555" stroke-width="0.7" stroke-linecap="butt"/>
<line x1="444.77" y1="341.70" x2="444.77" y2="344.30" stroke="#333" stroke-width="0.9" stroke-linecap="butt"/>
<line x1="480.98" y1="341.70" x2="480.98" y2="343.70" stroke="#555" stroke-width="0.7" stroke-linecap="butt"/>
<line x1="472.60" y1="341.70" x2="472.60" y2="344.30" stroke="#333" stroke-width="0.9" stroke-linecap="butt"/>
<path d="M649.3,81.2 L649.3,176 L674.9,176 L674.9,81.2" fill="#6b6b6b" stroke="#000" stroke-width="3"/>
<path d="M649.3,72.7 L649.3,62 L674.9,62 L674.9,72.7" fill="#6b6b6b" stroke="#000" stroke-width="3"/>
<rect x="573.20" y="173.30" width="25.50" height="3.10" fill="#222" stroke="#000" stroke-width="3"/>
<rect x="611.00" y="175.00" width="25.60" height="1.40" fill="#444" stroke="#000" stroke-width="2"/>
<line x1="566.80" y1="58.90" x2="566.80" y2="73.40" stroke="#000" stroke-width="2.6" stroke-linecap="butt"/>
<line x1="566.80" y1="80.00" x2="566.80" y2="177.30" stroke="#000" stroke-width="2.6" stroke-linecap="butt"/>
<line x1="562.40" y1="72.80" x2="570.60" y2="72.80" stroke="#000" stroke-width="2.2" stroke-linecap="butt"/>
<line x1="562.40" y1="80.80" x2="570.60" y2="80.80" stroke="#000" stroke-width="2.2" stroke-linecap="butt"/>
<line x1="562.40" y1="60.50" x2="566.80" y2="60.50" stroke="#000" stroke-width="2" stroke-linecap="butt"/>
<line x1="562.40" y1="67.00" x2="566.80" y2="67.00" stroke="#000" stroke-width="2" stroke-linecap="butt"/>
<line x1="562.20" y1="104.90" x2="566.80" y2="104.90" stroke="#000" stroke-width="2" stroke-linecap="butt"/>
<line x1="562.20" y1="128.80" x2="566.80" y2="128.80" stroke="#000" stroke-width="2" stroke-linecap="butt"/>
<line x1="562.20" y1="151.80" x2="566.80" y2="151.80" stroke="#000" stroke-width="2" stroke-linecap="butt"/>
<line x1="562.20" y1="176.00" x2="681.20" y2="176.00" stroke="#000" stroke-width="2.8" stroke-linecap="butt"/>
<line x1="585.40" y1="176.00" x2="585.40" y2="180.60" stroke="#000" stroke-width="2" stroke-linecap="butt"/>
<line x1="623.70" y1="176.00" x2="623.70" y2="180.60" stroke="#000" stroke-width="2" stroke-linecap="butt"/>
<line x1="662.20" y1="176.00" x2="662.20" y2="180.60" stroke="#000" stroke-width="2" stroke-linecap="butt"/>
<text x="527.20" y="63.45" font-size="8.8" fill="#111" textLength="34.0" lengthAdjust="spacingAndGlyphs" stroke="#111" stroke-width="0.22">20000</text>
<text x="534.00" y="83.45" font-size="8.8" fill="#111" textLength="27.2" lengthAdjust="spacingAndGlyphs" stroke="#111" stroke-width="0.22">4000</text>
<text x="534.00" y="107.75" font-size="8.8" fill="#111" textLength="27.2" lengthAdjust="spacingAndGlyphs" stroke="#111" stroke-width="0.22">3000</text>
<text x="534.00" y="131.65" font-size="8.8" fill="#111" textLength="27.2" lengthAdjust="spacingAndGlyphs" stroke="#111" stroke-width="0.22">2000</text>
<text x="534.00" y="154.65" font-size="8.8" fill="#111" textLength="27.2" lengthAdjust="spacingAndGlyphs" stroke="#111" stroke-width="0.22">1000</text>
<text x="554.40" y="179.15" font-size="8.8" fill="#111" textLength="6.8" lengthAdjust="spacingAndGlyphs" stroke="#111" stroke-width="0.22">0</text>
<text x="0" y="0" font-size="100.0" fill="#000" transform="translate(528.800 131.883) rotate(-90) scale(0.17290 0.18261)" stroke="#000" stroke-width="1.125">MFI</text>
<path d="M650.8,262.2 L650.8,355.3 L676.3,355.3 L676.3,262.2" fill="#6b6b6b" stroke="#000" stroke-width="2.8"/>
<path d="M650.8,252.4 L650.8,237.1 L676.3,237.1 L676.3,252.4" fill="#6b6b6b" stroke="#000" stroke-width="2.8"/>
<rect x="570.60" y="333.00" width="26.60" height="22.30" fill="#a3a3a3" stroke="#000" stroke-width="3"/>
<rect x="610.70" y="350.00" width="26.70" height="5.30" fill="#f4f4f4" stroke="#000" stroke-width="2.8"/>
<line x1="564.40" y1="230.50" x2="564.40" y2="253.20" stroke="#000" stroke-width="2.5" stroke-linecap="butt"/>
<line x1="564.40" y1="261.00" x2="564.40" y2="356.50" stroke="#000" stroke-width="2.5" stroke-linecap="butt"/>
<line x1="559.60" y1="252.50" x2="568.20" y2="252.50" stroke="#000" stroke-width="2.2" stroke-linecap="butt"/>
<line x1="559.60" y1="262.00" x2="568.20" y2="262.00" stroke="#000" stroke-width="2.2" stroke-linecap="butt"/>
<line x1="559.20" y1="231.20" x2="564.40" y2="231.20" stroke="#000" stroke-width="2" stroke-linecap="butt"/>
<line x1="559.20" y1="243.10" x2="564.40" y2="243.10" stroke="#000" stroke-width="2" stroke-linecap="butt"/>
<line x1="559.20" y1="280.50" x2="564.40" y2="280.50" stroke="#000" stroke-width="2" stroke-linecap="butt"/>
<line x1="559.20" y1="299.40" x2="564.40" y2="299.40" stroke="#000" stroke-width="2" stroke-linecap="butt"/>
<line x1="559.20" y1="318.00" x2="564.40" y2="318.00" stroke="#000" stroke-width="2" stroke-linecap="butt"/>
<line x1="559.20" y1="336.70" x2="564.40" y2="336.70" stroke="#000" stroke-width="2" stroke-linecap="butt"/>
<line x1="559.50" y1="355.30" x2="683.80" y2="355.30" stroke="#000" stroke-width="2.5" stroke-linecap="butt"/>
<line x1="583.70" y1="355.30" x2="583.70" y2="359.80" stroke="#000" stroke-width="2" stroke-linecap="butt"/>
<line x1="623.90" y1="355.30" x2="623.90" y2="359.80" stroke="#000" stroke-width="2" stroke-linecap="butt"/>
<line x1="664.00" y1="355.30" x2="664.00" y2="359.80" stroke="#000" stroke-width="2" stroke-linecap="butt"/>
<text x="524.40" y="234.55" font-size="9.08" fill="#111" textLength="33.0" lengthAdjust="spacingAndGlyphs" stroke="#111" stroke-width="0.22">40000</text>
<text x="537.60" y="264.95" font-size="9.08" fill="#111" textLength="19.8" lengthAdjust="spacingAndGlyphs" stroke="#111" stroke-width="0.22">500</text>
<text x="537.60" y="283.45" font-size="9.08" fill="#111" textLength="19.8" lengthAdjust="spacingAndGlyphs" stroke="#111" stroke-width="0.22">400</text>
<text x="537.60" y="302.35" font-size="9.08" fill="#111" textLength="19.8" lengthAdjust="spacingAndGlyphs" stroke="#111" stroke-width="0.22">300</text>
<text x="537.60" y="320.95" font-size="9.08" fill="#111" textLength="19.8" lengthAdjust="spacingAndGlyphs" stroke="#111" stroke-width="0.22">200</text>
<text x="537.60" y="339.65" font-size="9.08" fill="#111" textLength="19.8" lengthAdjust="spacingAndGlyphs" stroke="#111" stroke-width="0.22">100</text>
<text x="550.80" y="358.35" font-size="9.08" fill="#111" textLength="6.6" lengthAdjust="spacingAndGlyphs" stroke="#111" stroke-width="0.22">0</text>
<text x="0" y="0" font-size="100.0" fill="#000" transform="translate(529.000 302.963) rotate(-90) scale(0.17032 0.17391)" stroke="#000" stroke-width="1.162">MFI</text>
<text x="567.69" y="374.00" font-size="15.099" fill="#000" stroke="#000" stroke-width="0.2">Bcell</text>
<text x="609.12" y="374.00" font-size="14.099" fill="#000" stroke="#000" stroke-width="0.2">Tcell</text>
<text x="648.06" y="374.00" font-size="15.462" fill="#000" stroke="#000" stroke-width="0.2">Mac</text>
<text x="0" y="0" font-size="100.0" font-weight="bold" fill="#000" transform="translate(31.625 440.713) scale(0.33465 0.28707)">b</text>
<rect x="54.30" y="459.80" width="17.50" height="110.80" fill="#9e9e9e"/>
<line x1="55.30" y1="459.80" x2="55.30" y2="570.60" stroke="#000" stroke-width="2" stroke-linecap="butt"/>
<line x1="70.80" y1="459.80" x2="70.80" y2="570.60" stroke="#000" stroke-width="2" stroke-linecap="butt"/>
<line x1="86.45" y1="470.22" x2="86.45" y2="480.41" stroke="#000" stroke-width="2" stroke-linecap="butt"/>
<line x1="81.91" y1="470.22" x2="90.99" y2="470.22" stroke="#000" stroke-width="2" stroke-linecap="butt"/>
<rect x="79.20" y="481.41" width="14.50" height="89.19" fill="#9e9e9e" stroke="#000" stroke-width="2"/>
<line x1="109.70" y1="483.07" x2="109.70" y2="493.59" stroke="#000" stroke-width="2" stroke-linecap="butt"/>
<line x1="105.14" y1="483.07" x2="114.27" y2="483.07" stroke="#000" stroke-width="2" stroke-linecap="butt"/>
<rect x="102.40" y="494.59" width="14.60" height="76.01" fill="#9e9e9e" stroke="#000" stroke-width="2"/>
<line x1="133.25" y1="524.51" x2="133.25" y2="529.38" stroke="#000" stroke-width="2" stroke-linecap="butt"/>
<line x1="128.82" y1="524.51" x2="137.68" y2="524.51" stroke="#000" stroke-width="2" stroke-linecap="butt"/>
<rect x="126.20" y="530.38" width="14.10" height="40.22" fill="#9e9e9e" stroke="#000" stroke-width="2"/>
<line x1="156.50" y1="568.38" x2="156.50" y2="568.83" stroke="#000" stroke-width="2" stroke-linecap="butt"/>
<line x1="151.82" y1="568.38" x2="161.18" y2="568.38" stroke="#000" stroke-width="2" stroke-linecap="butt"/>
<rect x="149.00" y="569.83" width="15.00" height="0.77" fill="#9e9e9e" stroke="#000" stroke-width="2"/>
<rect x="172.70" y="461.24" width="14.50" height="109.36" fill="#9e9e9e" stroke="#000" stroke-width="2"/>
<rect x="195.00" y="459.80" width="16.50" height="110.80" fill="#9e9e9e"/>
<line x1="196.00" y1="459.80" x2="196.00" y2="570.60" stroke="#000" stroke-width="2" stroke-linecap="butt"/>
<line x1="210.50" y1="459.80" x2="210.50" y2="570.60" stroke="#000" stroke-width="2" stroke-linecap="butt"/>
<line x1="47.00" y1="459.30" x2="47.00" y2="571.60" stroke="#000" stroke-width="2" stroke-linecap="butt"/>
<line x1="46.00" y1="570.60" x2="218.60" y2="570.60" stroke="#000" stroke-width="2" stroke-linecap="butt"/>
<line x1="44.00" y1="459.80" x2="47.00" y2="459.80" stroke="#000" stroke-width="2" stroke-linecap="butt"/>
<text x="44.00" y="463.76" font-size="11" text-anchor="end" stroke="#000" stroke-width="0.2">100</text>
<line x1="44.00" y1="481.96" x2="47.00" y2="481.96" stroke="#000" stroke-width="2" stroke-linecap="butt"/>
<text x="44.00" y="485.92" font-size="11" text-anchor="end" stroke="#000" stroke-width="0.2">80</text>
<line x1="44.00" y1="504.12" x2="47.00" y2="504.12" stroke="#000" stroke-width="2" stroke-linecap="butt"/>
<text x="44.00" y="508.08" font-size="11" text-anchor="end" stroke="#000" stroke-width="0.2">60</text>
<line x1="44.00" y1="526.28" x2="47.00" y2="526.28" stroke="#000" stroke-width="2" stroke-linecap="butt"/>
<text x="44.00" y="530.24" font-size="11" text-anchor="end" stroke="#000" stroke-width="0.2">40</text>
<line x1="44.00" y1="548.44" x2="47.00" y2="548.44" stroke="#000" stroke-width="2" stroke-linecap="butt"/>
<text x="44.00" y="552.40" font-size="11" text-anchor="end" stroke="#000" stroke-width="0.2">20</text>
<line x1="44.00" y1="570.60" x2="47.00" y2="570.60" stroke="#000" stroke-width="2" stroke-linecap="butt"/>
<text x="44.00" y="574.56" font-size="11" text-anchor="end" stroke="#000" stroke-width="0.2">0</text>
<line x1="63.05" y1="570.60" x2="63.05" y2="574.00" stroke="#000" stroke-width="2" stroke-linecap="butt"/>
<line x1="86.45" y1="570.60" x2="86.45" y2="574.00" stroke="#000" stroke-width="2" stroke-linecap="butt"/>
<line x1="109.70" y1="570.60" x2="109.70" y2="574.00" stroke="#000" stroke-width="2" stroke-linecap="butt"/>
<line x1="133.25" y1="570.60" x2="133.25" y2="574.00" stroke="#000" stroke-width="2" stroke-linecap="butt"/>
<line x1="156.50" y1="570.60" x2="156.50" y2="574.00" stroke="#000" stroke-width="2" stroke-linecap="butt"/>
<line x1="179.95" y1="570.60" x2="179.95" y2="574.00" stroke="#000" stroke-width="2" stroke-linecap="butt"/>
<line x1="203.25" y1="570.60" x2="203.25" y2="574.00" stroke="#000" stroke-width="2" stroke-linecap="butt"/>
<text x="60.80" y="584.90" font-size="12" text-anchor="middle" stroke="#000" stroke-width="0.2">0</text>
<text x="82.60" y="584.90" font-size="12" text-anchor="middle" stroke="#000" stroke-width="0.2">.025</text>
<text x="110.00" y="584.90" font-size="12" text-anchor="middle" stroke="#000" stroke-width="0.2">0.25</text>
<text x="133.60" y="584.90" font-size="12" text-anchor="middle" stroke="#000" stroke-width="0.2">2.5</text>
<text x="155.60" y="584.90" font-size="12" text-anchor="middle" stroke="#000" stroke-width="0.2">25</text>
<text x="179.60" y="584.90" font-size="12" text-anchor="middle" stroke="#000" stroke-width="0.2">1</text>
<text x="200.00" y="584.90" font-size="12" text-anchor="middle" stroke="#000" stroke-width="0.2">10</text>
<line x1="49.00" y1="591.30" x2="168.70" y2="591.30" stroke="#000" stroke-width="2.2" stroke-linecap="butt"/>
<line x1="173.80" y1="591.30" x2="216.50" y2="591.30" stroke="#000" stroke-width="2.2" stroke-linecap="butt"/>
<text x="61.62" y="605.90" font-size="13.461" fill="#000" stroke="#000" stroke-width="0.2">FhHDM-1 (μM)</text>
<text x="161.89" y="605.90" font-size="13.612" fill="#000" stroke="#000" stroke-width="0.2">sPep (μM)</text>
<text x="0" y="0" font-size="100.0" fill="#000" transform="translate(21.815 573.722) rotate(-90) scale(0.12044 0.13262)" stroke="#000" stroke-width="1.581">% of response to LPS</text>
<circle cx="203" cy="446.6" r="0.8" fill="#333"/>
<text x="0" y="0" font-size="100.0" font-weight="bold" fill="#000" transform="translate(273.672 446.407) scale(0.33196 0.29273)">c</text>
<rect x="291.20" y="464.50" width="17.10" height="104.50" fill="#9e9e9e"/>
<line x1="292.20" y1="464.50" x2="292.20" y2="569.00" stroke="#000" stroke-width="2" stroke-linecap="butt"/>
<line x1="307.30" y1="464.50" x2="307.30" y2="569.00" stroke="#000" stroke-width="2" stroke-linecap="butt"/>
<line x1="323.90" y1="485.92" x2="323.90" y2="490.62" stroke="#000" stroke-width="2" stroke-linecap="butt"/>
<line x1="319.22" y1="485.92" x2="328.57" y2="485.92" stroke="#000" stroke-width="2" stroke-linecap="butt"/>
<rect x="316.40" y="491.62" width="15.00" height="77.38" fill="#9e9e9e" stroke="#000" stroke-width="2"/>
<line x1="347.95" y1="502.64" x2="347.95" y2="509.44" stroke="#000" stroke-width="2" stroke-linecap="butt"/>
<line x1="343.30" y1="502.64" x2="352.60" y2="502.64" stroke="#000" stroke-width="2" stroke-linecap="butt"/>
<rect x="340.50" y="510.44" width="14.90" height="58.56" fill="#9e9e9e" stroke="#000" stroke-width="2"/>
<line x1="371.85" y1="536.61" x2="371.85" y2="543.92" stroke="#000" stroke-width="2" stroke-linecap="butt"/>
<line x1="367.15" y1="536.61" x2="376.55" y2="536.61" stroke="#000" stroke-width="2" stroke-linecap="butt"/>
<rect x="364.30" y="544.92" width="15.10" height="24.08" fill="#9e9e9e" stroke="#000" stroke-width="2"/>
<line x1="396.05" y1="564.40" x2="396.05" y2="565.03" stroke="#000" stroke-width="2" stroke-linecap="butt"/>
<line x1="391.29" y1="564.40" x2="400.81" y2="564.40" stroke="#000" stroke-width="2" stroke-linecap="butt"/>
<rect x="388.40" y="566.03" width="15.30" height="2.97" fill="#9e9e9e" stroke="#000" stroke-width="2"/>
<line x1="419.85" y1="474.64" x2="419.85" y2="477.04" stroke="#000" stroke-width="2" stroke-linecap="butt"/>
<line x1="415.15" y1="474.64" x2="424.55" y2="474.64" stroke="#000" stroke-width="2" stroke-linecap="butt"/>
<rect x="412.30" y="478.04" width="15.10" height="90.96" fill="#9e9e9e" stroke="#000" stroke-width="2"/>
<rect x="435.40" y="464.50" width="17.50" height="104.50" fill="#9e9e9e"/>
<line x1="436.40" y1="464.50" x2="436.40" y2="569.00" stroke="#000" stroke-width="2" stroke-linecap="butt"/>
<line x1="451.90" y1="464.50" x2="451.90" y2="569.00" stroke="#000" stroke-width="2" stroke-linecap="butt"/>
<line x1="283.80" y1="464.00" x2="283.80" y2="570.00" stroke="#000" stroke-width="2" stroke-linecap="butt"/>
<line x1="282.80" y1="569.00" x2="460.00" y2="569.00" stroke="#000" stroke-width="2" stroke-linecap="butt"/>
<line x1="280.80" y1="464.50" x2="283.80" y2="464.50" stroke="#000" stroke-width="2" stroke-linecap="butt"/>
<text x="280.00" y="468.46" font-size="11" text-anchor="end" stroke="#000" stroke-width="0.2">100</text>
<line x1="280.80" y1="485.40" x2="283.80" y2="485.40" stroke="#000" stroke-width="2" stroke-linecap="butt"/>
<text x="280.00" y="489.36" font-size="11" text-anchor="end" stroke="#000" stroke-width="0.2">80</text>
<line x1="280.80" y1="506.30" x2="283.80" y2="506.30" stroke="#000" stroke-width="2" stroke-linecap="butt"/>
<text x="280.00" y="510.26" font-size="11" text-anchor="end" stroke="#000" stroke-width="0.2">60</text>
<line x1="280.80" y1="527.20" x2="283.80" y2="527.20" stroke="#000" stroke-width="2" stroke-linecap="butt"/>
<text x="280.00" y="531.16" font-size="11" text-anchor="end" stroke="#000" stroke-width="0.2">40</text>
<line x1="280.80" y1="548.10" x2="283.80" y2="548.10" stroke="#000" stroke-width="2" stroke-linecap="butt"/>
<text x="280.00" y="552.06" font-size="11" text-anchor="end" stroke="#000" stroke-width="0.2">20</text>
<line x1="280.80" y1="569.00" x2="283.80" y2="569.00" stroke="#000" stroke-width="2" stroke-linecap="butt"/>
<text x="280.00" y="572.96" font-size="11" text-anchor="end" stroke="#000" stroke-width="0.2">0</text>
<line x1="299.75" y1="569.00" x2="299.75" y2="572.40" stroke="#000" stroke-width="2" stroke-linecap="butt"/>
<line x1="323.90" y1="569.00" x2="323.90" y2="572.40" stroke="#000" stroke-width="2" stroke-linecap="butt"/>
<line x1="347.95" y1="569.00" x2="347.95" y2="572.40" stroke="#000" stroke-width="2" stroke-linecap="butt"/>
<line x1="371.85" y1="569.00" x2="371.85" y2="572.40" stroke="#000" stroke-width="2" stroke-linecap="butt"/>
<line x1="396.05" y1="569.00" x2="396.05" y2="572.40" stroke="#000" stroke-width="2" stroke-linecap="butt"/>
<line x1="419.85" y1="569.00" x2="419.85" y2="572.40" stroke="#000" stroke-width="2" stroke-linecap="butt"/>
<line x1="444.15" y1="569.00" x2="444.15" y2="572.40" stroke="#000" stroke-width="2" stroke-linecap="butt"/>
<text x="299.30" y="584.70" font-size="12" text-anchor="middle" stroke="#000" stroke-width="0.2">0</text>
<text x="321.80" y="584.70" font-size="12" text-anchor="middle" stroke="#000" stroke-width="0.2">.025</text>
<text x="348.00" y="584.70" font-size="12" text-anchor="middle" stroke="#000" stroke-width="0.2">0.25</text>
<text x="372.00" y="584.70" font-size="12" text-anchor="middle" stroke="#000" stroke-width="0.2">2.5</text>
<text x="394.20" y="584.70" font-size="12" text-anchor="middle" stroke="#000" stroke-width="0.2">25</text>
<text x="420.80" y="584.70" font-size="12" text-anchor="middle" stroke="#000" stroke-width="0.2">1</text>
<text x="442.00" y="584.70" font-size="12" text-anchor="middle" stroke="#000" stroke-width="0.2">10</text>
<line x1="283.00" y1="592.30" x2="400.70" y2="592.30" stroke="#000" stroke-width="2.2" stroke-linecap="butt"/>
<line x1="407.50" y1="592.30" x2="450.70" y2="592.30" stroke="#000" stroke-width="2.2" stroke-linecap="butt"/>
<text x="298.43" y="605.90" font-size="13.400" fill="#000" stroke="#000" stroke-width="0.2">FhHDM-1 (μM)</text>
<text x="406.29" y="605.90" font-size="13.678" fill="#000" stroke="#000" stroke-width="0.2">sPep (μM)</text>
<text x="0" y="0" font-size="100.0" fill="#000" transform="translate(259.070 580.662) rotate(-90) scale(0.13201 0.13476)" stroke="#000" stroke-width="1.499">% of response to LPS</text>
<text x="0" y="0" font-size="100.0" font-weight="bold" fill="#000" transform="translate(53.864 639.709) scale(0.30891 0.29116)">d</text>
<line x1="132.15" y1="755.49" x2="132.15" y2="758.74" stroke="#000" stroke-width="2" stroke-linecap="butt"/>
<line x1="124.35" y1="755.49" x2="139.95" y2="755.49" stroke="#000" stroke-width="2" stroke-linecap="butt"/>
<rect x="118.00" y="758.74" width="28.30" height="6.06" fill="#000" stroke="#000" stroke-width="2"/>
<line x1="132.15" y1="764.80" x2="132.15" y2="767.80" stroke="#000" stroke-width="2" stroke-linecap="butt"/>
<line x1="175.45" y1="749.39" x2="175.45" y2="755.53" stroke="#000" stroke-width="2" stroke-linecap="butt"/>
<line x1="167.65" y1="749.39" x2="183.25" y2="749.39" stroke="#000" stroke-width="2" stroke-linecap="butt"/>
<rect x="161.20" y="755.53" width="28.50" height="9.27" fill="#8a8a8a" stroke="#000" stroke-width="2"/>
<line x1="175.45" y1="764.80" x2="175.45" y2="767.80" stroke="#000" stroke-width="2" stroke-linecap="butt"/>
<line x1="219.10" y1="672.99" x2="219.10" y2="679.13" stroke="#000" stroke-width="2" stroke-linecap="butt"/>
<line x1="211.30" y1="672.99" x2="226.90" y2="672.99" stroke="#000" stroke-width="2" stroke-linecap="butt"/>
<rect x="205.10" y="679.13" width="28.00" height="85.67" fill="#000" stroke="#000" stroke-width="2"/>
<line x1="219.10" y1="764.80" x2="219.10" y2="767.80" stroke="#000" stroke-width="2" stroke-linecap="butt"/>
<line x1="262.70" y1="706.06" x2="262.70" y2="719.90" stroke="#000" stroke-width="2" stroke-linecap="butt"/>
<line x1="254.90" y1="706.06" x2="270.50" y2="706.06" stroke="#000" stroke-width="2" stroke-linecap="butt"/>
<rect x="249.00" y="719.90" width="27.40" height="44.90" fill="#8a8a8a" stroke="#000" stroke-width="2"/>
<line x1="262.70" y1="764.80" x2="262.70" y2="767.80" stroke="#000" stroke-width="2" stroke-linecap="butt"/>
<line x1="306.05" y1="735.59" x2="306.05" y2="740.44" stroke="#000" stroke-width="2" stroke-linecap="butt"/>
<line x1="298.25" y1="735.59" x2="313.85" y2="735.59" stroke="#000" stroke-width="2" stroke-linecap="butt"/>
<rect x="291.90" y="740.44" width="28.30" height="24.36" fill="#000" stroke="#000" stroke-width="2"/>
<line x1="306.05" y1="764.80" x2="306.05" y2="767.80" stroke="#000" stroke-width="2" stroke-linecap="butt"/>
<line x1="349.70" y1="744.58" x2="349.70" y2="749.11" stroke="#000" stroke-width="2" stroke-linecap="butt"/>
<line x1="341.90" y1="744.58" x2="357.50" y2="744.58" stroke="#000" stroke-width="2" stroke-linecap="butt"/>
<rect x="334.50" y="748.11" width="30.40" height="16.69" fill="#949494"/>
<line x1="349.70" y1="764.80" x2="349.70" y2="767.80" stroke="#000" stroke-width="2" stroke-linecap="butt"/>
<line x1="103.30" y1="635.90" x2="103.30" y2="765.80" stroke="#000" stroke-width="1.8" stroke-linecap="butt"/>
<line x1="102.50" y1="764.80" x2="378.60" y2="764.80" stroke="#000" stroke-width="2" stroke-linecap="butt"/>
<line x1="99.60" y1="636.40" x2="103.30" y2="636.40" stroke="#000" stroke-width="1.8" stroke-linecap="butt"/>
<text x="78.20" y="639.25" font-size="9.92" fill="#111" textLength="21.0" lengthAdjust="spacingAndGlyphs" stroke="#111" stroke-width="0.22">400</text>
<line x1="99.60" y1="668.50" x2="103.30" y2="668.50" stroke="#000" stroke-width="1.8" stroke-linecap="butt"/>
<text x="78.20" y="671.35" font-size="9.92" fill="#111" textLength="21.0" lengthAdjust="spacingAndGlyphs" stroke="#111" stroke-width="0.22">300</text>
<line x1="99.60" y1="700.60" x2="103.30" y2="700.60" stroke="#000" stroke-width="1.8" stroke-linecap="butt"/>
<text x="78.20" y="703.45" font-size="9.92" fill="#111" textLength="21.0" lengthAdjust="spacingAndGlyphs" stroke="#111" stroke-width="0.22">200</text>
<line x1="99.60" y1="732.70" x2="103.30" y2="732.70" stroke="#000" stroke-width="1.8" stroke-linecap="butt"/>
<text x="78.20" y="735.55" font-size="9.92" fill="#111" textLength="21.0" lengthAdjust="spacingAndGlyphs" stroke="#111" stroke-width="0.22">100</text>
<line x1="99.60" y1="764.80" x2="103.30" y2="764.80" stroke="#000" stroke-width="1.8" stroke-linecap="butt"/>
<text x="92.20" y="767.65" font-size="9.92" fill="#111" textLength="7.0" lengthAdjust="spacingAndGlyphs" stroke="#111" stroke-width="0.22">0</text>
<text x="0" y="0" font-size="100.0" fill="#000" transform="translate(75.727 736.144) rotate(-90) scale(0.12210 0.12727)" stroke="#000" stroke-width="1.604">TNF (pg/ml)</text>
<line x1="206.50" y1="658.90" x2="276.90" y2="658.90" stroke="#000" stroke-width="2.2" stroke-linecap="butt"/>
<text x="216.2" y="650.7" font-size="12.2" stroke="#000" stroke-width="0.2"><tspan font-style="italic">p</tspan>=0.0022</text>
<text x="108.85" y="784.60" font-size="13.117" fill="#000" stroke="#000" stroke-width="0.2">PBS FhHDM-1</text>
<text x="199.75" y="784.60" font-size="13.071" fill="#000" stroke="#000" stroke-width="0.2">PBS FhHDM-1</text>
<text x="290.56" y="784.60" font-size="13.056" fill="#000" stroke="#000" stroke-width="0.2">PBS FhHDM-1</text>
<line x1="109.50" y1="788.70" x2="196.40" y2="788.70" stroke="#000" stroke-width="2.2" stroke-linecap="butt"/>
<line x1="200.50" y1="788.70" x2="280.80" y2="788.70" stroke="#000" stroke-width="2.2" stroke-linecap="butt"/>
<line x1="290.10" y1="788.70" x2="370.40" y2="788.70" stroke="#000" stroke-width="2.2" stroke-linecap="butt"/>
<text x="125.59" y="803.60" font-size="14.189" fill="#000" stroke="#000" stroke-width="0.2">+ Saline</text>
<text x="199.38" y="803.80" font-size="14.335" fill="#000" stroke="#000" stroke-width="0.2">+ LPS 6hrs</text>
<text x="287.48" y="803.60" font-size="14.358" fill="#000" stroke="#000" stroke-width="0.2">+ LPS 18 hrs</text>
<text x="0" y="0" font-size="100.0" font-weight="bold" fill="#000" transform="translate(53.833 850.713) scale(0.29167 0.28727)">e</text>
<line x1="123.25" y1="851.48" x2="123.25" y2="853.06" stroke="#000" stroke-width="2" stroke-linecap="butt"/>
<line x1="118.71" y1="851.48" x2="127.79" y2="851.48" stroke="#000" stroke-width="2" stroke-linecap="butt"/>
<rect x="116.00" y="854.06" width="14.50" height="101.24" fill="#9e9e9e" stroke="#000" stroke-width="2"/>
<line x1="146.40" y1="875.72" x2="146.40" y2="882.05" stroke="#000" stroke-width="2" stroke-linecap="butt"/>
<line x1="141.95" y1="875.72" x2="150.85" y2="875.72" stroke="#000" stroke-width="2" stroke-linecap="butt"/>
<rect x="139.30" y="883.05" width="14.20" height="72.25" fill="#9e9e9e" stroke="#000" stroke-width="2"/>
<line x1="169.35" y1="893.64" x2="169.35" y2="899.44" stroke="#000" stroke-width="2" stroke-linecap="butt"/>
<line x1="164.92" y1="893.64" x2="173.78" y2="893.64" stroke="#000" stroke-width="2" stroke-linecap="butt"/>
<rect x="162.30" y="900.44" width="14.10" height="54.86" fill="#9e9e9e" stroke="#000" stroke-width="2"/>
<line x1="192.35" y1="943.71" x2="192.35" y2="944.76" stroke="#000" stroke-width="2" stroke-linecap="butt"/>
<line x1="187.81" y1="943.71" x2="196.89" y2="943.71" stroke="#000" stroke-width="2" stroke-linecap="butt"/>
<rect x="185.10" y="945.76" width="14.50" height="9.54" fill="#9e9e9e" stroke="#000" stroke-width="2"/>
<line x1="215.30" y1="943.71" x2="215.30" y2="944.76" stroke="#000" stroke-width="2" stroke-linecap="butt"/>
<line x1="210.84" y1="943.71" x2="219.76" y2="943.71" stroke="#000" stroke-width="2" stroke-linecap="butt"/>
<rect x="208.20" y="945.76" width="14.20" height="9.54" fill="#9e9e9e" stroke="#000" stroke-width="2"/>
<line x1="107.80" y1="849.40" x2="107.80" y2="956.30" stroke="#000" stroke-width="2" stroke-linecap="butt"/>
<line x1="106.80" y1="955.30" x2="230.20" y2="955.30" stroke="#000" stroke-width="2" stroke-linecap="butt"/>
<line x1="104.80" y1="849.90" x2="107.80" y2="849.90" stroke="#000" stroke-width="2" stroke-linecap="butt"/>
<text x="92.50" y="853.50" font-size="10" textLength="13.8" lengthAdjust="spacingAndGlyphs" stroke="#000" stroke-width="0.2">100</text>
<line x1="104.80" y1="870.98" x2="107.80" y2="870.98" stroke="#000" stroke-width="2" stroke-linecap="butt"/>
<text x="97.10" y="874.58" font-size="10" textLength="9.2" lengthAdjust="spacingAndGlyphs" stroke="#000" stroke-width="0.2">80</text>
<line x1="104.80" y1="892.06" x2="107.80" y2="892.06" stroke="#000" stroke-width="2" stroke-linecap="butt"/>
<text x="97.10" y="895.66" font-size="10" textLength="9.2" lengthAdjust="spacingAndGlyphs" stroke="#000" stroke-width="0.2">60</text>
<line x1="104.80" y1="913.14" x2="107.80" y2="913.14" stroke="#000" stroke-width="2" stroke-linecap="butt"/>
<text x="97.10" y="916.74" font-size="10" textLength="9.2" lengthAdjust="spacingAndGlyphs" stroke="#000" stroke-width="0.2">40</text>
<line x1="104.80" y1="934.22" x2="107.80" y2="934.22" stroke="#000" stroke-width="2" stroke-linecap="butt"/>
<text x="97.10" y="937.82" font-size="10" textLength="9.2" lengthAdjust="spacingAndGlyphs" stroke="#000" stroke-width="0.2">20</text>
<line x1="104.80" y1="955.30" x2="107.80" y2="955.30" stroke="#000" stroke-width="2" stroke-linecap="butt"/>
<text x="101.70" y="958.90" font-size="10" textLength="4.6" lengthAdjust="spacingAndGlyphs" stroke="#000" stroke-width="0.2">0</text>
<line x1="123.25" y1="955.30" x2="123.25" y2="958.70" stroke="#000" stroke-width="2" stroke-linecap="butt"/>
<line x1="146.40" y1="955.30" x2="146.40" y2="958.70" stroke="#000" stroke-width="2" stroke-linecap="butt"/>
<line x1="169.35" y1="955.30" x2="169.35" y2="958.70" stroke="#000" stroke-width="2" stroke-linecap="butt"/>
<line x1="192.35" y1="955.30" x2="192.35" y2="958.70" stroke="#000" stroke-width="2" stroke-linecap="butt"/>
<line x1="215.30" y1="955.30" x2="215.30" y2="958.70" stroke="#000" stroke-width="2" stroke-linecap="butt"/>
<text x="117.70" y="969.10" font-size="12" text-anchor="middle" stroke="#000" stroke-width="0.2">0</text>
<text x="140.00" y="969.10" font-size="12" text-anchor="middle" stroke="#000" stroke-width="0.2">.025</text>
<text x="167.00" y="969.10" font-size="12" text-anchor="middle" stroke="#000" stroke-width="0.2">0.25</text>
<text x="190.50" y="969.10" font-size="12" text-anchor="middle" stroke="#000" stroke-width="0.2">2.5</text>
<text x="212.40" y="969.10" font-size="12" text-anchor="middle" stroke="#000" stroke-width="0.2">25</text>
<line x1="109.20" y1="975.40" x2="228.80" y2="975.40" stroke="#000" stroke-width="2.2" stroke-linecap="butt"/>
<text x="123.43" y="991.50" font-size="13.369" fill="#000" stroke="#000" stroke-width="0.2">FhHDM-1 (μM)</text>
<text x="0" y="0" font-size="100.0" fill="#000" transform="translate(82.107 958.021) rotate(-90) scale(0.12033 0.11872)" stroke="#000" stroke-width="1.673">% of response to LPS</text>
<text x="0" y="0" font-size="100.0" font-weight="bold" fill="#000" transform="translate(258.736 850.700) scale(0.30938 0.28690)">f</text>
<line x1="317.25" y1="854.32" x2="317.25" y2="855.85" stroke="#000" stroke-width="2" stroke-linecap="butt"/>
<line x1="312.71" y1="854.32" x2="321.79" y2="854.32" stroke="#000" stroke-width="2" stroke-linecap="butt"/>
<rect x="310.00" y="856.85" width="14.50" height="97.45" fill="#9e9e9e" stroke="#000" stroke-width="2"/>
<rect x="331.70" y="852.80" width="16.60" height="101.50" fill="#9e9e9e"/>
<line x1="332.70" y1="852.80" x2="332.70" y2="954.30" stroke="#000" stroke-width="2" stroke-linecap="butt"/>
<line x1="347.30" y1="852.80" x2="347.30" y2="954.30" stroke="#000" stroke-width="2" stroke-linecap="butt"/>
<line x1="363.15" y1="856.35" x2="363.15" y2="856.86" stroke="#000" stroke-width="2" stroke-linecap="butt"/>
<line x1="358.72" y1="856.35" x2="367.58" y2="856.35" stroke="#000" stroke-width="2" stroke-linecap="butt"/>
<rect x="356.10" y="857.86" width="14.10" height="96.44" fill="#9e9e9e" stroke="#000" stroke-width="2"/>
<line x1="385.70" y1="941.10" x2="385.70" y2="943.64" stroke="#000" stroke-width="2" stroke-linecap="butt"/>
<line x1="381.13" y1="941.10" x2="390.26" y2="941.10" stroke="#000" stroke-width="2" stroke-linecap="butt"/>
<rect x="378.40" y="944.64" width="14.60" height="9.66" fill="#9e9e9e" stroke="#000" stroke-width="2"/>
<line x1="408.55" y1="943.13" x2="408.55" y2="944.15" stroke="#000" stroke-width="2" stroke-linecap="butt"/>
<line x1="404.01" y1="943.13" x2="413.09" y2="943.13" stroke="#000" stroke-width="2" stroke-linecap="butt"/>
<rect x="401.30" y="945.15" width="14.50" height="9.15" fill="#9e9e9e" stroke="#000" stroke-width="2"/>
<line x1="300.40" y1="852.30" x2="300.40" y2="955.30" stroke="#000" stroke-width="2" stroke-linecap="butt"/>
<line x1="299.40" y1="954.30" x2="424.00" y2="954.30" stroke="#000" stroke-width="2" stroke-linecap="butt"/>
<line x1="297.40" y1="852.80" x2="300.40" y2="852.80" stroke="#000" stroke-width="2" stroke-linecap="butt"/>
<text x="286.60" y="856.40" font-size="10" textLength="12.3" lengthAdjust="spacingAndGlyphs" stroke="#000" stroke-width="0.2">100</text>
<line x1="297.40" y1="873.10" x2="300.40" y2="873.10" stroke="#000" stroke-width="2" stroke-linecap="butt"/>
<text x="290.70" y="876.70" font-size="10" textLength="8.2" lengthAdjust="spacingAndGlyphs" stroke="#000" stroke-width="0.2">80</text>
<line x1="297.40" y1="893.40" x2="300.40" y2="893.40" stroke="#000" stroke-width="2" stroke-linecap="butt"/>
<text x="290.70" y="897.00" font-size="10" textLength="8.2" lengthAdjust="spacingAndGlyphs" stroke="#000" stroke-width="0.2">60</text>
<line x1="297.40" y1="913.70" x2="300.40" y2="913.70" stroke="#000" stroke-width="2" stroke-linecap="butt"/>
<text x="290.70" y="917.30" font-size="10" textLength="8.2" lengthAdjust="spacingAndGlyphs" stroke="#000" stroke-width="0.2">40</text>
<line x1="297.40" y1="934.00" x2="300.40" y2="934.00" stroke="#000" stroke-width="2" stroke-linecap="butt"/>
<text x="290.70" y="937.60" font-size="10" textLength="8.2" lengthAdjust="spacingAndGlyphs" stroke="#000" stroke-width="0.2">20</text>
<line x1="297.40" y1="954.30" x2="300.40" y2="954.30" stroke="#000" stroke-width="2" stroke-linecap="butt"/>
<text x="294.80" y="957.90" font-size="10" textLength="4.1" lengthAdjust="spacingAndGlyphs" stroke="#000" stroke-width="0.2">0</text>
<line x1="317.25" y1="954.30" x2="317.25" y2="957.70" stroke="#000" stroke-width="2" stroke-linecap="butt"/>
<line x1="340.00" y1="954.30" x2="340.00" y2="957.70" stroke="#000" stroke-width="2" stroke-linecap="butt"/>
<line x1="363.15" y1="954.30" x2="363.15" y2="957.70" stroke="#000" stroke-width="2" stroke-linecap="butt"/>
<line x1="385.70" y1="954.30" x2="385.70" y2="957.70" stroke="#000" stroke-width="2" stroke-linecap="butt"/>
<line x1="408.55" y1="954.30" x2="408.55" y2="957.70" stroke="#000" stroke-width="2" stroke-linecap="butt"/>
<text x="315.00" y="969.10" font-size="12" text-anchor="middle" stroke="#000" stroke-width="0.2">0</text>
<text x="338.30" y="969.10" font-size="12" text-anchor="middle" stroke="#000" stroke-width="0.2">.025</text>
<text x="364.30" y="969.10" font-size="12" text-anchor="middle" stroke="#000" stroke-width="0.2">0.25</text>
<text x="388.00" y="969.10" font-size="12" text-anchor="middle" stroke="#000" stroke-width="0.2">2.5</text>
<text x="410.00" y="969.10" font-size="12" text-anchor="middle" stroke="#000" stroke-width="0.2">25</text>
<line x1="302.20" y1="976.70" x2="421.70" y2="976.70" stroke="#000" stroke-width="2.2" stroke-linecap="butt"/>
<text x="316.82" y="991.50" font-size="13.522" fill="#000" stroke="#000" stroke-width="0.2">FhHDM-1 (μM)</text>
<text x="0" y="0" font-size="100.0" fill="#000" transform="translate(280.264 958.722) rotate(-90) scale(0.12044 0.11123)" stroke="#000" stroke-width="1.727">% of response to LPS</text>
<circle cx="341" cy="827" r="0.7" fill="#444"/>
</svg>
</body></html>
